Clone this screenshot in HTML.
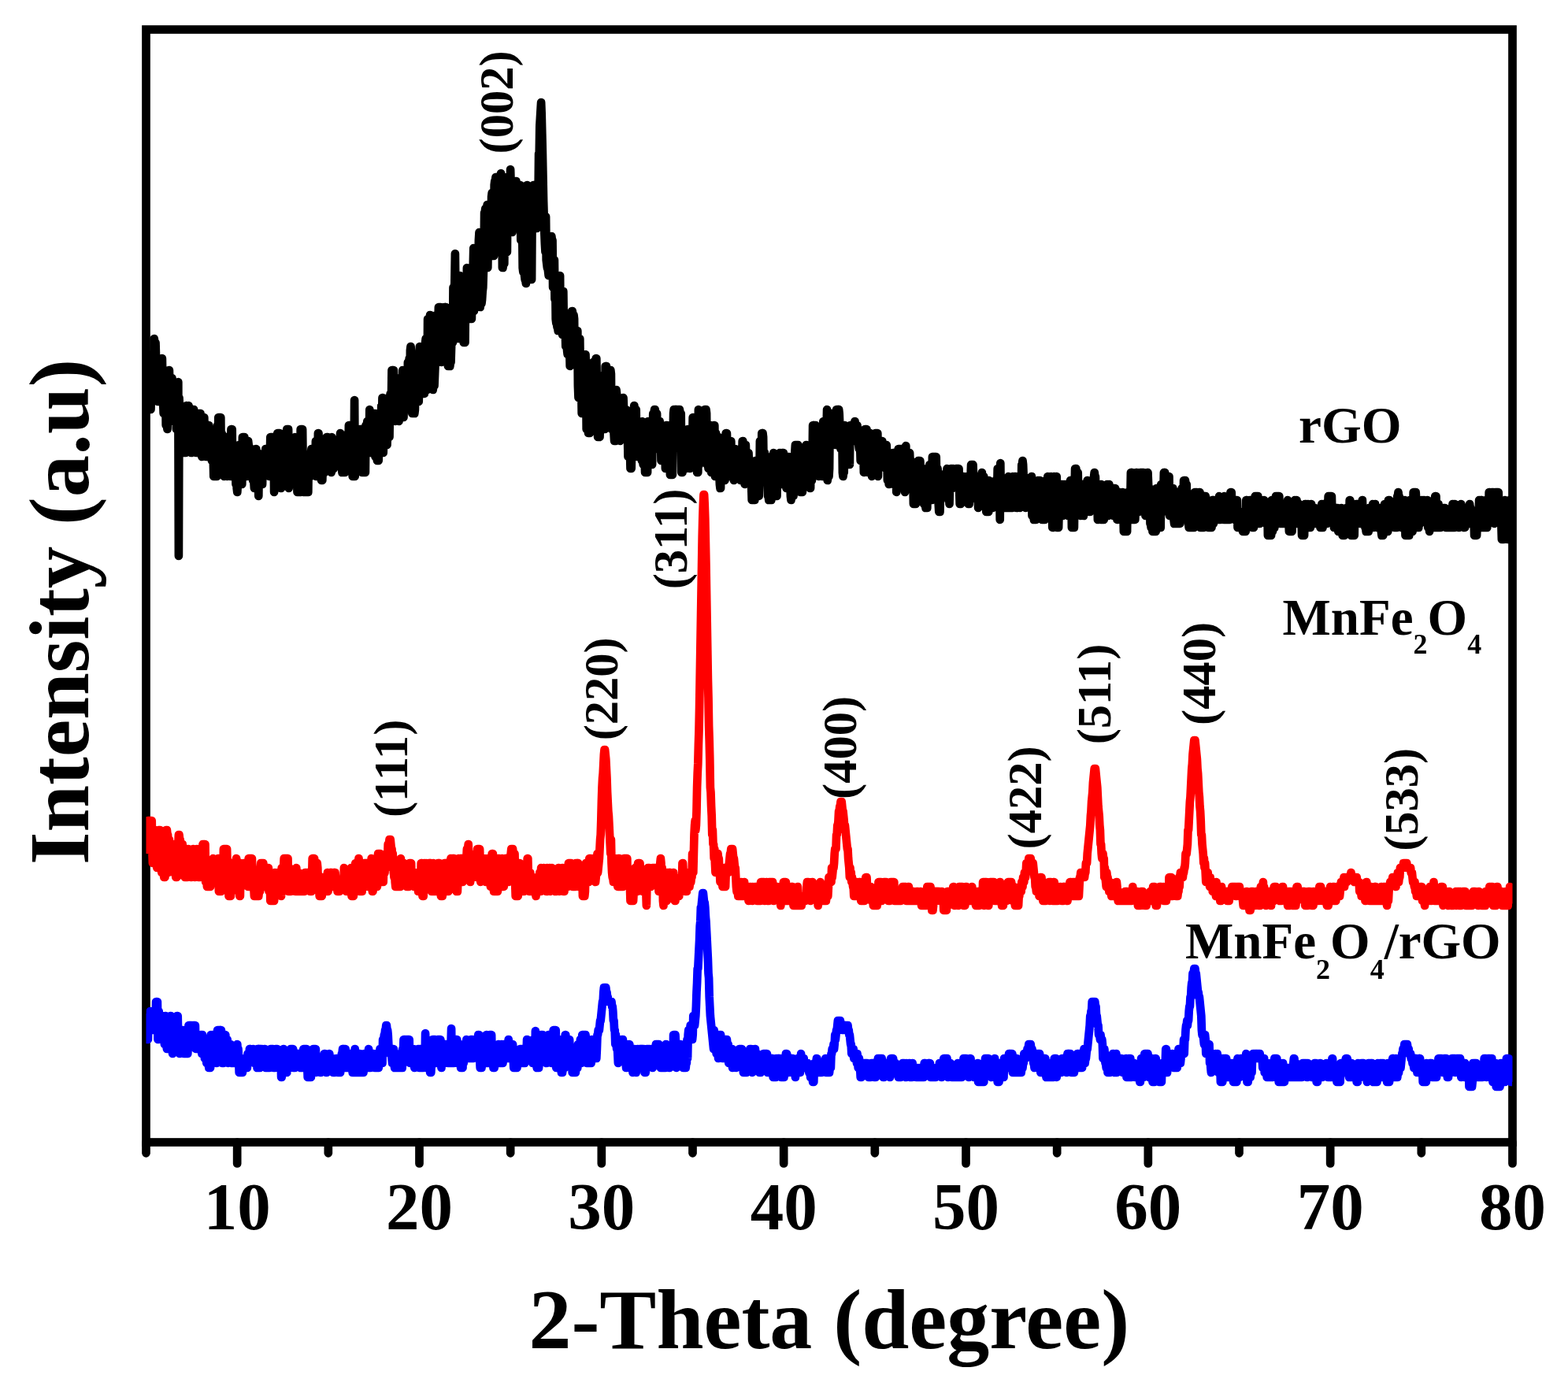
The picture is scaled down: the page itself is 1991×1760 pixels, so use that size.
<!DOCTYPE html>
<html><head><meta charset="utf-8"><style>
html,body{margin:0;padding:0;background:#fff;}
svg{display:block;}
text{font-family:'Liberation Serif','Times New Roman',serif;font-weight:bold;fill:#000;}
</style></head><body>
<svg width="1991" height="1760" viewBox="0 0 1991 1760">
<defs><clipPath id="c"><rect x="185.5" y="0" width="1735" height="1760"/></clipPath></defs>
<rect x="0" y="0" width="1991" height="1760" fill="#fff"/>
<g stroke="#000" stroke-width="10.7" fill="none" stroke-linecap="round">
<rect x="185.5" y="37.5" width="1735" height="1413" stroke-linejoin="miter"/>
<line x1="185.50" y1="1450.5" x2="185.50" y2="1464.3"/>
<line x1="301.17" y1="1450.5" x2="301.17" y2="1477.4"/>
<line x1="416.83" y1="1450.5" x2="416.83" y2="1464.3"/>
<line x1="532.50" y1="1450.5" x2="532.50" y2="1477.4"/>
<line x1="648.17" y1="1450.5" x2="648.17" y2="1464.3"/>
<line x1="763.83" y1="1450.5" x2="763.83" y2="1477.4"/>
<line x1="879.50" y1="1450.5" x2="879.50" y2="1464.3"/>
<line x1="995.17" y1="1450.5" x2="995.17" y2="1477.4"/>
<line x1="1110.83" y1="1450.5" x2="1110.83" y2="1464.3"/>
<line x1="1226.50" y1="1450.5" x2="1226.50" y2="1477.4"/>
<line x1="1342.17" y1="1450.5" x2="1342.17" y2="1464.3"/>
<line x1="1457.83" y1="1450.5" x2="1457.83" y2="1477.4"/>
<line x1="1573.50" y1="1450.5" x2="1573.50" y2="1464.3"/>
<line x1="1689.17" y1="1450.5" x2="1689.17" y2="1477.4"/>
<line x1="1804.83" y1="1450.5" x2="1804.83" y2="1464.3"/>
<line x1="1920.50" y1="1450.5" x2="1920.50" y2="1477.4"/>
</g>
<g clip-path="url(#c)" fill="none" stroke-width="10.7" stroke-linejoin="round" stroke-linecap="butt">
<polyline stroke="#000" points="185.5,460.0 186.1,455.0 186.7,470.0 187.3,450.0 187.9,485.0 188.5,520.0 189.1,520.0 189.7,520.0 190.3,520.0 190.9,520.0 191.5,520.0 192.1,485.0 192.7,480.0 193.3,450.0 193.9,455.0 194.5,480.0 195.1,505.0 195.7,430.0 196.3,435.0 196.9,435.0 197.5,435.0 198.1,455.0 198.7,455.0 199.3,465.0 199.9,490.0 200.5,510.0 201.1,460.0 201.7,490.0 202.3,485.0 202.9,480.0 203.5,490.0 204.1,510.0 204.7,465.0 205.3,485.0 205.9,455.0 206.5,490.0 207.1,510.0 207.7,525.0 208.3,485.0 208.9,470.0 209.5,495.0 210.1,480.0 210.7,540.0 211.3,540.0 211.9,540.0 212.5,545.0 213.1,530.0 213.7,485.0 214.3,480.0 214.9,470.0 215.5,495.0 216.1,520.0 216.7,480.0 217.3,525.0 217.9,515.0 218.5,480.0 219.1,510.0 219.7,525.0 220.3,535.0 220.9,485.0 221.5,530.0 222.1,530.0 222.7,490.0 223.3,495.0 223.9,545.0 224.5,500.0 225.1,500.0 225.7,525.0 226.3,485.0 226.9,706.0 227.5,505.0 228.1,520.0 228.7,525.0 229.3,530.0 229.9,515.0 230.5,550.0 231.1,545.0 231.7,570.0 232.3,570.0 232.9,575.0 233.5,570.0 234.1,575.0 234.7,575.0 235.3,575.0 235.9,575.0 236.5,515.0 237.1,515.0 237.7,550.0 238.3,550.0 238.9,560.0 239.5,515.0 240.1,560.0 240.7,535.0 241.3,530.0 241.9,535.0 242.5,575.0 243.1,570.0 243.7,525.0 244.3,540.0 244.9,520.0 245.5,520.0 246.1,520.0 246.7,525.0 247.3,525.0 247.9,525.0 248.5,525.0 249.1,575.0 249.7,550.0 250.3,570.0 250.9,555.0 251.5,550.0 252.1,530.0 252.7,525.0 253.3,530.0 253.9,530.0 254.5,525.0 255.1,530.0 255.7,570.0 256.3,580.0 256.9,555.0 257.5,530.0 258.1,530.0 258.7,530.0 259.3,530.0 259.9,575.0 260.5,575.0 261.1,545.0 261.7,580.0 262.3,580.0 262.9,555.0 263.5,555.0 264.1,540.0 264.7,560.0 265.3,540.0 265.9,565.0 266.5,575.0 267.1,575.0 267.7,545.0 268.3,575.0 268.9,585.0 269.5,550.0 270.1,575.0 270.7,580.0 271.3,605.0 271.9,605.0 272.5,605.0 273.1,605.0 273.7,605.0 274.3,605.0 274.9,605.0 275.5,605.0 276.1,540.0 276.7,590.0 277.3,530.0 277.9,530.0 278.5,530.0 279.1,530.0 279.7,530.0 280.3,530.0 280.9,595.0 281.5,550.0 282.1,555.0 282.7,600.0 283.3,600.0 283.9,555.0 284.5,605.0 285.1,565.0 285.7,600.0 286.3,600.0 286.9,555.0 287.5,555.0 288.1,570.0 288.7,605.0 289.3,595.0 289.9,575.0 290.5,600.0 291.1,570.0 291.7,575.0 292.3,565.0 292.9,605.0 293.5,545.0 294.1,545.0 294.7,545.0 295.3,605.0 295.9,580.0 296.5,570.0 297.1,580.0 297.7,595.0 298.3,600.0 298.9,570.0 299.5,615.0 300.1,600.0 300.7,620.0 301.3,625.0 301.9,615.0 302.5,610.0 303.1,565.0 303.7,590.0 304.3,595.0 304.9,615.0 305.5,590.0 306.1,570.0 306.7,615.0 307.3,615.0 307.9,555.0 308.5,555.0 309.1,555.0 309.7,555.0 310.3,555.0 310.9,565.0 311.5,590.0 312.1,580.0 312.7,575.0 313.3,605.0 313.9,565.0 314.5,565.0 315.1,560.0 315.7,565.0 316.3,600.0 316.9,580.0 317.5,605.0 318.1,575.0 318.7,605.0 319.3,605.0 319.9,570.0 320.5,600.0 321.1,610.0 321.7,610.0 322.3,610.0 322.9,620.0 323.5,610.0 324.1,620.0 324.7,595.0 325.3,570.0 325.9,580.0 326.5,585.0 327.1,575.0 327.7,575.0 328.3,630.0 328.9,585.0 329.5,585.0 330.1,610.0 330.7,615.0 331.3,615.0 331.9,590.0 332.5,610.0 333.1,615.0 333.7,580.0 334.3,580.0 334.9,605.0 335.5,585.0 336.1,580.0 336.7,590.0 337.3,570.0 337.9,595.0 338.5,570.0 339.1,585.0 339.7,575.0 340.3,585.0 340.9,570.0 341.5,590.0 342.1,605.0 342.7,585.0 343.3,555.0 343.9,555.0 344.5,555.0 345.1,555.0 345.7,555.0 346.3,555.0 346.9,555.0 347.5,555.0 348.1,625.0 348.7,585.0 349.3,595.0 349.9,605.0 350.5,605.0 351.1,580.0 351.7,600.0 352.3,550.0 352.9,550.0 353.5,550.0 354.1,550.0 354.7,550.0 355.3,550.0 355.9,610.0 356.5,620.0 357.1,620.0 357.7,585.0 358.3,605.0 358.9,600.0 359.5,590.0 360.1,600.0 360.7,575.0 361.3,610.0 361.9,580.0 362.5,565.0 363.1,550.0 363.7,550.0 364.3,545.0 364.9,550.0 365.5,550.0 366.1,545.0 366.7,620.0 367.3,590.0 367.9,615.0 368.5,610.0 369.1,565.0 369.7,570.0 370.3,580.0 370.9,610.0 371.5,575.0 372.1,585.0 372.7,585.0 373.3,575.0 373.9,605.0 374.5,555.0 375.1,570.0 375.7,605.0 376.3,590.0 376.9,585.0 377.5,625.0 378.1,625.0 378.7,625.0 379.3,625.0 379.9,625.0 380.5,625.0 381.1,620.0 381.7,545.0 382.3,545.0 382.9,545.0 383.5,545.0 384.1,545.0 384.7,595.0 385.3,625.0 385.9,625.0 386.5,625.0 387.1,585.0 387.7,625.0 388.3,625.0 388.9,625.0 389.5,625.0 390.1,620.0 390.7,620.0 391.3,625.0 391.9,580.0 392.5,585.0 393.1,600.0 393.7,600.0 394.3,605.0 394.9,575.0 395.5,570.0 396.1,595.0 396.7,585.0 397.3,590.0 397.9,570.0 398.5,575.0 399.1,600.0 399.7,580.0 400.3,600.0 400.9,560.0 401.5,605.0 402.1,570.0 402.7,580.0 403.3,605.0 403.9,550.0 404.5,550.0 405.1,605.0 405.7,600.0 406.3,585.0 406.9,565.0 407.5,590.0 408.1,610.0 408.7,610.0 409.3,610.0 409.9,590.0 410.5,585.0 411.1,565.0 411.7,580.0 412.3,600.0 412.9,575.0 413.5,575.0 414.1,590.0 414.7,555.0 415.3,555.0 415.9,555.0 416.5,555.0 417.1,580.0 417.7,585.0 418.3,575.0 418.9,570.0 419.5,565.0 420.1,580.0 420.7,600.0 421.3,555.0 421.9,590.0 422.5,595.0 423.1,575.0 423.7,595.0 424.3,585.0 424.9,575.0 425.5,570.0 426.1,570.0 426.7,580.0 427.3,560.0 427.9,580.0 428.5,570.0 429.1,580.0 429.7,590.0 430.3,560.0 430.9,565.0 431.5,560.0 432.1,550.0 432.7,575.0 433.3,575.0 433.9,595.0 434.5,600.0 435.1,600.0 435.7,600.0 436.3,600.0 436.9,600.0 437.5,600.0 438.1,600.0 438.7,565.0 439.3,585.0 439.9,560.0 440.5,555.0 441.1,585.0 441.7,550.0 442.3,585.0 442.9,540.0 443.5,540.0 444.1,540.0 444.7,540.0 445.3,540.0 445.9,580.0 446.5,565.0 447.1,570.0 447.7,605.0 448.3,605.0 448.9,605.0 449.5,605.0 450.1,508.0 450.7,605.0 451.3,560.0 451.9,565.0 452.5,560.0 453.1,585.0 453.7,590.0 454.3,580.0 454.9,565.0 455.5,580.0 456.1,575.0 456.7,565.0 457.3,545.0 457.9,550.0 458.5,575.0 459.1,545.0 459.7,600.0 460.3,600.0 460.9,600.0 461.5,600.0 462.1,600.0 462.7,600.0 463.3,600.0 463.9,600.0 464.5,540.0 465.1,555.0 465.7,550.0 466.3,535.0 466.9,540.0 467.5,550.0 468.1,570.0 468.7,565.0 469.3,520.0 469.9,550.0 470.5,530.0 471.1,575.0 471.7,575.0 472.3,555.0 472.9,565.0 473.5,560.0 474.1,570.0 474.7,530.0 475.3,525.0 475.9,565.0 476.5,580.0 477.1,525.0 477.7,550.0 478.3,545.0 478.9,585.0 479.5,585.0 480.1,585.0 480.7,585.0 481.3,530.0 481.9,570.0 482.5,550.0 483.1,550.0 483.7,570.0 484.3,515.0 484.9,540.0 485.5,505.0 486.1,505.0 486.7,575.0 487.3,555.0 487.9,540.0 488.5,535.0 489.1,550.0 489.7,560.0 490.3,565.0 490.9,565.0 491.5,565.0 492.1,545.0 492.7,505.0 493.3,555.0 493.9,510.0 494.5,555.0 495.1,505.0 495.7,500.0 496.3,505.0 496.9,515.0 497.5,470.0 498.1,475.0 498.7,475.0 499.3,470.0 499.9,470.0 500.5,510.0 501.1,505.0 501.7,535.0 502.3,520.0 502.9,505.0 503.5,530.0 504.1,515.0 504.7,485.0 505.3,530.0 505.9,505.0 506.5,535.0 507.1,515.0 507.7,480.0 508.3,520.0 508.9,510.0 509.5,505.0 510.1,495.0 510.7,510.0 511.3,470.0 511.9,500.0 512.5,530.0 513.1,475.0 513.7,470.0 514.3,490.0 514.9,495.0 515.5,485.0 516.1,495.0 516.7,505.0 517.3,510.0 517.9,460.0 518.5,480.0 519.1,495.0 519.7,455.0 520.3,520.0 520.9,445.0 521.5,440.0 522.1,445.0 522.7,465.0 523.3,525.0 523.9,525.0 524.5,525.0 525.1,525.0 525.7,525.0 526.3,525.0 526.9,520.0 527.5,485.0 528.1,485.0 528.7,505.0 529.3,505.0 529.9,510.0 530.5,460.0 531.1,470.0 531.7,510.0 532.3,485.0 532.9,440.0 533.5,500.0 534.1,480.0 534.7,445.0 535.3,455.0 535.9,470.0 536.5,475.0 537.1,460.0 537.7,480.0 538.3,465.0 538.9,500.0 539.5,490.0 540.1,435.0 540.7,430.0 541.3,485.0 541.9,465.0 542.5,495.0 543.1,405.0 543.7,405.0 544.3,405.0 544.9,405.0 545.5,405.0 546.1,400.0 546.7,400.0 547.3,470.0 547.9,485.0 548.5,430.0 549.1,490.0 549.7,495.0 550.3,490.0 550.9,490.0 551.5,490.0 552.1,475.0 552.7,460.0 553.3,415.0 553.9,400.0 554.5,450.0 555.1,425.0 555.7,415.0 556.3,415.0 556.9,390.0 557.5,390.0 558.1,390.0 558.7,390.0 559.3,390.0 559.9,390.0 560.5,460.0 561.1,430.0 561.7,435.0 562.3,430.0 562.9,395.0 563.5,395.0 564.1,395.0 564.7,390.0 565.3,395.0 565.9,390.0 566.5,425.0 567.1,435.0 567.7,445.0 568.3,430.0 568.9,465.0 569.5,465.0 570.1,465.0 570.7,465.0 571.3,465.0 571.9,460.0 572.5,460.0 573.1,440.0 573.7,405.0 574.3,415.0 574.9,435.0 575.5,365.0 576.1,365.0 576.7,365.0 577.3,360.0 577.9,322.0 578.5,380.0 579.1,405.0 579.7,375.0 580.3,410.0 580.9,390.0 581.5,430.0 582.1,400.0 582.7,350.0 583.3,350.0 583.9,350.0 584.5,360.0 585.1,380.0 585.7,385.0 586.3,360.0 586.9,365.0 587.5,375.0 588.1,380.0 588.7,435.0 589.3,435.0 589.9,435.0 590.5,435.0 591.1,370.0 591.7,405.0 592.3,405.0 592.9,340.0 593.5,350.0 594.1,345.0 594.7,365.0 595.3,365.0 595.9,395.0 596.5,390.0 597.1,405.0 597.7,385.0 598.3,370.0 598.9,405.0 599.5,370.0 600.1,350.0 600.7,340.0 601.3,315.0 601.9,395.0 602.5,375.0 603.1,340.0 603.7,385.0 604.3,370.0 604.9,345.0 605.5,390.0 606.1,380.0 606.7,335.0 607.3,335.0 607.9,305.0 608.5,295.0 609.1,320.0 609.7,390.0 610.3,385.0 610.9,385.0 611.5,385.0 612.1,380.0 612.7,370.0 613.3,365.0 613.9,345.0 614.5,330.0 615.1,270.0 615.7,270.0 616.3,265.0 616.9,265.0 617.5,265.0 618.1,265.0 618.7,260.0 619.3,340.0 619.9,300.0 620.5,265.0 621.1,285.0 621.7,290.0 622.3,315.0 622.9,295.0 623.5,315.0 624.1,250.0 624.7,245.0 625.3,245.0 625.9,245.0 626.5,325.0 627.1,325.0 627.7,235.0 628.3,230.0 628.9,230.0 629.5,225.0 630.1,230.0 630.7,225.0 631.3,225.0 631.9,225.0 632.5,295.0 633.1,315.0 633.7,300.0 634.3,280.0 634.9,240.0 635.5,305.0 636.1,220.0 636.7,295.0 637.3,235.0 637.9,340.0 638.5,340.0 639.1,335.0 639.7,335.0 640.3,335.0 640.9,270.0 641.5,260.0 642.1,230.0 642.7,245.0 643.3,225.0 643.9,320.0 644.5,240.0 645.1,255.0 645.7,240.0 646.3,285.0 646.9,270.0 647.5,290.0 648.1,215.0 648.7,235.0 649.3,270.0 649.9,270.0 650.5,295.0 651.1,230.0 651.7,255.0 652.3,260.0 652.9,270.0 653.5,255.0 654.1,290.0 654.7,235.0 655.3,230.0 655.9,255.0 656.5,235.0 657.1,265.0 657.7,280.0 658.3,240.0 658.9,275.0 659.5,285.0 660.1,285.0 660.7,235.0 661.3,305.0 661.9,305.0 662.5,265.0 663.1,285.0 663.7,340.0 664.3,345.0 664.9,345.0 665.5,345.0 666.1,350.0 666.7,355.0 667.3,355.0 667.9,360.0 668.5,280.0 669.1,235.0 669.7,235.0 670.3,255.0 670.9,300.0 671.5,315.0 672.1,320.0 672.7,250.0 673.3,315.0 673.9,300.0 674.5,285.0 675.1,355.0 675.7,260.0 676.3,240.0 676.9,240.0 677.5,235.0 678.1,240.0 678.7,240.0 679.3,240.0 679.9,235.0 680.5,235.0 681.1,250.0 681.7,290.0 682.3,245.0 682.9,235.0 683.5,255.0 684.1,195.0 684.7,200.0 685.3,160.0 685.9,150.0 686.5,140.0 687.1,130.0 687.7,145.0 688.3,170.0 688.9,195.0 689.5,225.0 690.1,255.0 690.7,275.0 691.3,295.0 691.9,310.0 692.5,320.0 693.1,275.0 693.7,330.0 694.3,335.0 694.9,340.0 695.5,340.0 696.1,345.0 696.7,350.0 697.3,310.0 697.9,305.0 698.5,310.0 699.1,335.0 699.7,300.0 700.3,300.0 700.9,305.0 701.5,305.0 702.1,365.0 702.7,345.0 703.3,345.0 703.9,330.0 704.5,380.0 705.1,350.0 705.7,405.0 706.3,410.0 706.9,410.0 707.5,415.0 708.1,415.0 708.7,420.0 709.3,420.0 709.9,420.0 710.5,380.0 711.1,350.0 711.7,415.0 712.3,375.0 712.9,385.0 713.5,405.0 714.1,425.0 714.7,375.0 715.3,370.0 715.9,415.0 716.5,415.0 717.1,400.0 717.7,415.0 718.3,440.0 718.9,435.0 719.5,420.0 720.1,445.0 720.7,450.0 721.3,445.0 721.9,400.0 722.5,435.0 723.1,440.0 723.7,465.0 724.3,440.0 724.9,450.0 725.5,455.0 726.1,395.0 726.7,395.0 727.3,400.0 727.9,400.0 728.5,400.0 729.1,405.0 729.7,460.0 730.3,460.0 730.9,455.0 731.5,420.0 732.1,465.0 732.7,430.0 733.3,420.0 733.9,490.0 734.5,505.0 735.1,430.0 735.7,485.0 736.3,430.0 736.9,480.0 737.5,490.0 738.1,485.0 738.7,525.0 739.3,490.0 739.9,450.0 740.5,525.0 741.1,465.0 741.7,490.0 742.3,480.0 742.9,515.0 743.5,450.0 744.1,475.0 744.7,545.0 745.3,545.0 745.9,545.0 746.5,545.0 747.1,550.0 747.7,545.0 748.3,550.0 748.9,550.0 749.5,480.0 750.1,510.0 750.7,505.0 751.3,515.0 751.9,495.0 752.5,480.0 753.1,460.0 753.7,515.0 754.3,480.0 754.9,460.0 755.5,495.0 756.1,485.0 756.7,455.0 757.3,455.0 757.9,495.0 758.5,525.0 759.1,555.0 759.7,555.0 760.3,555.0 760.9,555.0 761.5,555.0 762.1,535.0 762.7,490.0 763.3,545.0 763.9,485.0 764.5,505.0 765.1,480.0 765.7,515.0 766.3,530.0 766.9,525.0 767.5,475.0 768.1,545.0 768.7,465.0 769.3,470.0 769.9,465.0 770.5,530.0 771.1,515.0 771.7,515.0 772.3,490.0 772.9,505.0 773.5,535.0 774.1,525.0 774.7,525.0 775.3,470.0 775.9,475.0 776.5,545.0 777.1,505.0 777.7,500.0 778.3,530.0 778.9,500.0 779.5,550.0 780.1,560.0 780.7,560.0 781.3,560.0 781.9,560.0 782.5,495.0 783.1,500.0 783.7,520.0 784.3,525.0 784.9,550.0 785.5,510.0 786.1,555.0 786.7,530.0 787.3,560.0 787.9,515.0 788.5,510.0 789.1,535.0 789.7,525.0 790.3,540.0 790.9,505.0 791.5,505.0 792.1,520.0 792.7,530.0 793.3,535.0 793.9,530.0 794.5,545.0 795.1,520.0 795.7,530.0 796.3,525.0 796.9,550.0 797.5,580.0 798.1,530.0 798.7,575.0 799.3,545.0 799.9,570.0 800.5,595.0 801.1,595.0 801.7,595.0 802.3,565.0 802.9,580.0 803.5,575.0 804.1,555.0 804.7,520.0 805.3,515.0 805.9,520.0 806.5,520.0 807.1,520.0 807.7,520.0 808.3,575.0 808.9,565.0 809.5,580.0 810.1,565.0 810.7,555.0 811.3,570.0 811.9,570.0 812.5,545.0 813.1,555.0 813.7,565.0 814.3,545.0 814.9,585.0 815.5,535.0 816.1,580.0 816.7,590.0 817.3,570.0 817.9,545.0 818.5,580.0 819.1,600.0 819.7,600.0 820.3,600.0 820.9,600.0 821.5,600.0 822.1,600.0 822.7,535.0 823.3,575.0 823.9,575.0 824.5,550.0 825.1,555.0 825.7,575.0 826.3,570.0 826.9,570.0 827.5,560.0 828.1,590.0 828.7,545.0 829.3,525.0 829.9,525.0 830.5,525.0 831.1,520.0 831.7,520.0 832.3,525.0 832.9,525.0 833.5,525.0 834.1,525.0 834.7,570.0 835.3,550.0 835.9,555.0 836.5,560.0 837.1,540.0 837.7,535.0 838.3,570.0 838.9,545.0 839.5,585.0 840.1,540.0 840.7,550.0 841.3,575.0 841.9,545.0 842.5,560.0 843.1,555.0 843.7,555.0 844.3,545.0 844.9,595.0 845.5,555.0 846.1,540.0 846.7,590.0 847.3,540.0 847.9,580.0 848.5,575.0 849.1,580.0 849.7,585.0 850.3,545.0 850.9,603.0 851.5,603.0 852.1,603.0 852.7,603.0 853.3,603.0 853.9,603.0 854.5,565.0 855.1,525.0 855.7,520.0 856.3,525.0 856.9,560.0 857.5,520.0 858.1,525.0 858.7,520.0 859.3,520.0 859.9,525.0 860.5,540.0 861.1,525.0 861.7,520.0 862.3,520.0 862.9,520.0 863.5,525.0 864.1,525.0 864.7,525.0 865.3,600.0 865.9,560.0 866.5,600.0 867.1,575.0 867.7,595.0 868.3,570.0 868.9,590.0 869.5,590.0 870.1,560.0 870.7,555.0 871.3,595.0 871.9,555.0 872.5,585.0 873.1,545.0 873.7,565.0 874.3,555.0 874.9,550.0 875.5,545.0 876.1,595.0 876.7,570.0 877.3,555.0 877.9,565.0 878.5,580.0 879.1,570.0 879.7,530.0 880.3,535.0 880.9,585.0 881.5,560.0 882.1,565.0 882.7,535.0 883.3,530.0 883.9,535.0 884.5,545.0 885.1,600.0 885.7,600.0 886.3,600.0 886.9,520.0 887.5,560.0 888.1,590.0 888.7,530.0 889.3,570.0 889.9,575.0 890.5,540.0 891.1,585.0 891.7,535.0 892.3,580.0 892.9,540.0 893.5,555.0 894.1,555.0 894.7,520.0 895.3,520.0 895.9,520.0 896.5,520.0 897.1,525.0 897.7,590.0 898.3,540.0 898.9,560.0 899.5,595.0 900.1,575.0 900.7,565.0 901.3,570.0 901.9,595.0 902.5,540.0 903.1,600.0 903.7,570.0 904.3,590.0 904.9,570.0 905.5,595.0 906.1,550.0 906.7,540.0 907.3,540.0 907.9,605.0 908.5,575.0 909.1,550.0 909.7,590.0 910.3,580.0 910.9,555.0 911.5,560.0 912.1,575.0 912.7,555.0 913.3,600.0 913.9,615.0 914.5,620.0 915.1,620.0 915.7,570.0 916.3,610.0 916.9,610.0 917.5,610.0 918.1,610.0 918.7,610.0 919.3,610.0 919.9,610.0 920.5,610.0 921.1,570.0 921.7,550.0 922.3,550.0 922.9,550.0 923.5,570.0 924.1,585.0 924.7,605.0 925.3,590.0 925.9,575.0 926.5,595.0 927.1,565.0 927.7,560.0 928.3,560.0 928.9,590.0 929.5,590.0 930.1,595.0 930.7,595.0 931.3,590.0 931.9,610.0 932.5,585.0 933.1,570.0 933.7,575.0 934.3,585.0 934.9,595.0 935.5,580.0 936.1,585.0 936.7,580.0 937.3,600.0 937.9,605.0 938.5,575.0 939.1,600.0 939.7,570.0 940.3,610.0 940.9,580.0 941.5,595.0 942.1,590.0 942.7,560.0 943.3,560.0 943.9,565.0 944.5,585.0 945.1,590.0 945.7,615.0 946.3,570.0 946.9,565.0 947.5,595.0 948.1,580.0 948.7,590.0 949.3,575.0 949.9,605.0 950.5,575.0 951.1,595.0 951.7,610.0 952.3,615.0 952.9,585.0 953.5,595.0 954.1,615.0 954.7,635.0 955.3,635.0 955.9,630.0 956.5,630.0 957.1,630.0 957.7,630.0 958.3,635.0 958.9,585.0 959.5,630.0 960.1,630.0 960.7,630.0 961.3,630.0 961.9,630.0 962.5,630.0 963.1,630.0 963.7,630.0 964.3,615.0 964.9,560.0 965.5,560.0 966.1,585.0 966.7,605.0 967.3,550.0 967.9,555.0 968.5,550.0 969.1,555.0 969.7,595.0 970.3,580.0 970.9,575.0 971.5,610.0 972.1,605.0 972.7,595.0 973.3,595.0 973.9,610.0 974.5,580.0 975.1,630.0 975.7,630.0 976.3,635.0 976.9,635.0 977.5,630.0 978.1,630.0 978.7,630.0 979.3,635.0 979.9,610.0 980.5,600.0 981.1,595.0 981.7,590.0 982.3,575.0 982.9,610.0 983.5,615.0 984.1,580.0 984.7,605.0 985.3,625.0 985.9,630.0 986.5,630.0 987.1,580.0 987.7,580.0 988.3,590.0 988.9,580.0 989.5,600.0 990.1,575.0 990.7,605.0 991.3,610.0 991.9,575.0 992.5,615.0 993.1,615.0 993.7,575.0 994.3,600.0 994.9,575.0 995.5,595.0 996.1,580.0 996.7,600.0 997.3,580.0 997.9,580.0 998.5,620.0 999.1,615.0 999.7,605.0 1000.3,610.0 1000.9,585.0 1001.5,580.0 1002.1,590.0 1002.7,610.0 1003.3,610.0 1003.9,630.0 1004.5,635.0 1005.1,630.0 1005.7,630.0 1006.3,630.0 1006.9,630.0 1007.5,630.0 1008.1,615.0 1008.7,620.0 1009.3,575.0 1009.9,565.0 1010.5,565.0 1011.1,565.0 1011.7,565.0 1012.3,565.0 1012.9,565.0 1013.5,565.0 1014.1,580.0 1014.7,595.0 1015.3,610.0 1015.9,625.0 1016.5,625.0 1017.1,625.0 1017.7,625.0 1018.3,625.0 1018.9,625.0 1019.5,590.0 1020.1,585.0 1020.7,580.0 1021.3,595.0 1021.9,610.0 1022.5,585.0 1023.1,580.0 1023.7,565.0 1024.3,570.0 1024.9,570.0 1025.5,585.0 1026.1,605.0 1026.7,585.0 1027.3,570.0 1027.9,570.0 1028.5,620.0 1029.1,620.0 1029.7,575.0 1030.3,605.0 1030.9,610.0 1031.5,590.0 1032.1,540.0 1032.7,545.0 1033.3,540.0 1033.9,540.0 1034.5,540.0 1035.1,540.0 1035.7,540.0 1036.3,555.0 1036.9,580.0 1037.5,580.0 1038.1,570.0 1038.7,580.0 1039.3,605.0 1039.9,580.0 1040.5,560.0 1041.1,575.0 1041.7,560.0 1042.3,580.0 1042.9,580.0 1043.5,585.0 1044.1,605.0 1044.7,570.0 1045.3,535.0 1045.9,570.0 1046.5,570.0 1047.1,590.0 1047.7,600.0 1048.3,545.0 1048.9,595.0 1049.5,545.0 1050.1,520.0 1050.7,610.0 1051.3,605.0 1051.9,605.0 1052.5,605.0 1053.1,595.0 1053.7,535.0 1054.3,555.0 1054.9,560.0 1055.5,525.0 1056.1,525.0 1056.7,525.0 1057.3,525.0 1057.9,525.0 1058.5,525.0 1059.1,525.0 1059.7,525.0 1060.3,550.0 1060.9,565.0 1061.5,545.0 1062.1,520.0 1062.7,520.0 1063.3,520.0 1063.9,520.0 1064.5,525.0 1065.1,520.0 1065.7,525.0 1066.3,540.0 1066.9,550.0 1067.5,570.0 1068.1,565.0 1068.7,560.0 1069.3,545.0 1069.9,600.0 1070.5,605.0 1071.1,600.0 1071.7,600.0 1072.3,540.0 1072.9,540.0 1073.5,585.0 1074.1,560.0 1074.7,585.0 1075.3,555.0 1075.9,570.0 1076.5,555.0 1077.1,585.0 1077.7,550.0 1078.3,570.0 1078.9,590.0 1079.5,540.0 1080.1,540.0 1080.7,540.0 1081.3,540.0 1081.9,540.0 1082.5,540.0 1083.1,540.0 1083.7,540.0 1084.3,560.0 1084.9,540.0 1085.5,535.0 1086.1,540.0 1086.7,540.0 1087.3,540.0 1087.9,540.0 1088.5,540.0 1089.1,560.0 1089.7,550.0 1090.3,565.0 1090.9,570.0 1091.5,560.0 1092.1,565.0 1092.7,585.0 1093.3,565.0 1093.9,565.0 1094.5,565.0 1095.1,575.0 1095.7,560.0 1096.3,575.0 1096.9,600.0 1097.5,595.0 1098.1,545.0 1098.7,545.0 1099.3,545.0 1099.9,545.0 1100.5,545.0 1101.1,575.0 1101.7,585.0 1102.3,600.0 1102.9,550.0 1103.5,550.0 1104.1,550.0 1104.7,550.0 1105.3,555.0 1105.9,575.0 1106.5,565.0 1107.1,605.0 1107.7,595.0 1108.3,580.0 1108.9,560.0 1109.5,565.0 1110.1,570.0 1110.7,585.0 1111.3,550.0 1111.9,550.0 1112.5,550.0 1113.1,550.0 1113.7,550.0 1114.3,550.0 1114.9,605.0 1115.5,570.0 1116.1,570.0 1116.7,560.0 1117.3,560.0 1117.9,560.0 1118.5,560.0 1119.1,560.0 1119.7,560.0 1120.3,560.0 1120.9,590.0 1121.5,565.0 1122.1,565.0 1122.7,565.0 1123.3,565.0 1123.9,565.0 1124.5,595.0 1125.1,565.0 1125.7,565.0 1126.3,580.0 1126.9,610.0 1127.5,595.0 1128.1,600.0 1128.7,615.0 1129.3,605.0 1129.9,575.0 1130.5,605.0 1131.1,585.0 1131.7,605.0 1132.3,595.0 1132.9,595.0 1133.5,580.0 1134.1,575.0 1134.7,615.0 1135.3,575.0 1135.9,575.0 1136.5,595.0 1137.1,615.0 1137.7,600.0 1138.3,625.0 1138.9,610.0 1139.5,615.0 1140.1,615.0 1140.7,570.0 1141.3,570.0 1141.9,570.0 1142.5,570.0 1143.1,570.0 1143.7,570.0 1144.3,570.0 1144.9,575.0 1145.5,580.0 1146.1,610.0 1146.7,575.0 1147.3,605.0 1147.9,590.0 1148.5,610.0 1149.1,625.0 1149.7,595.0 1150.3,566.0 1150.9,610.0 1151.5,575.0 1152.1,575.0 1152.7,575.0 1153.3,575.0 1153.9,575.0 1154.5,575.0 1155.1,575.0 1155.7,590.0 1156.3,595.0 1156.9,585.0 1157.5,600.0 1158.1,600.0 1158.7,600.0 1159.3,600.0 1159.9,640.0 1160.5,640.0 1161.1,640.0 1161.7,640.0 1162.3,640.0 1162.9,640.0 1163.5,605.0 1164.1,625.0 1164.7,620.0 1165.3,610.0 1165.9,585.0 1166.5,605.0 1167.1,585.0 1167.7,630.0 1168.3,585.0 1168.9,595.0 1169.5,595.0 1170.1,625.0 1170.7,630.0 1171.3,620.0 1171.9,625.0 1172.5,595.0 1173.1,640.0 1173.7,640.0 1174.3,640.0 1174.9,640.0 1175.5,645.0 1176.1,645.0 1176.7,640.0 1177.3,645.0 1177.9,610.0 1178.5,635.0 1179.1,625.0 1179.7,630.0 1180.3,590.0 1180.9,635.0 1181.5,615.0 1182.1,595.0 1182.7,620.0 1183.3,635.0 1183.9,580.0 1184.5,580.0 1185.1,580.0 1185.7,580.0 1186.3,580.0 1186.9,580.0 1187.5,580.0 1188.1,580.0 1188.7,580.0 1189.3,615.0 1189.9,625.0 1190.5,595.0 1191.1,600.0 1191.7,640.0 1192.3,650.0 1192.9,645.0 1193.5,650.0 1194.1,615.0 1194.7,605.0 1195.3,610.0 1195.9,605.0 1196.5,630.0 1197.1,610.0 1197.7,625.0 1198.3,625.0 1198.9,620.0 1199.5,615.0 1200.1,610.0 1200.7,605.0 1201.3,600.0 1201.9,625.0 1202.5,595.0 1203.1,630.0 1203.7,630.0 1204.3,635.0 1204.9,625.0 1205.5,640.0 1206.1,615.0 1206.7,615.0 1207.3,610.0 1207.9,595.0 1208.5,615.0 1209.1,620.0 1209.7,620.0 1210.3,595.0 1210.9,605.0 1211.5,610.0 1212.1,615.0 1212.7,605.0 1213.3,615.0 1213.9,595.0 1214.5,595.0 1215.1,595.0 1215.7,595.0 1216.3,595.0 1216.9,595.0 1217.5,595.0 1218.1,620.0 1218.7,640.0 1219.3,620.0 1219.9,640.0 1220.5,625.0 1221.1,635.0 1221.7,630.0 1222.3,620.0 1222.9,605.0 1223.5,610.0 1224.1,620.0 1224.7,620.0 1225.3,610.0 1225.9,610.0 1226.5,615.0 1227.1,625.0 1227.7,605.0 1228.3,620.0 1228.9,630.0 1229.5,640.0 1230.1,625.0 1230.7,640.0 1231.3,630.0 1231.9,635.0 1232.5,605.0 1233.1,590.0 1233.7,590.0 1234.3,590.0 1234.9,590.0 1235.5,590.0 1236.1,605.0 1236.7,605.0 1237.3,620.0 1237.9,610.0 1238.5,625.0 1239.1,620.0 1239.7,605.0 1240.3,610.0 1240.9,610.0 1241.5,610.0 1242.1,645.0 1242.7,625.0 1243.3,635.0 1243.9,620.0 1244.5,610.0 1245.1,615.0 1245.7,630.0 1246.3,620.0 1246.9,600.0 1247.5,625.0 1248.1,625.0 1248.7,630.0 1249.3,605.0 1249.9,640.0 1250.5,620.0 1251.1,615.0 1251.7,615.0 1252.3,650.0 1252.9,650.0 1253.5,645.0 1254.1,650.0 1254.7,650.0 1255.3,650.0 1255.9,610.0 1256.5,635.0 1257.1,620.0 1257.7,620.0 1258.3,615.0 1258.9,645.0 1259.5,625.0 1260.1,645.0 1260.7,640.0 1261.3,640.0 1261.9,640.0 1262.5,615.0 1263.1,640.0 1263.7,625.0 1264.3,610.0 1264.9,615.0 1265.5,630.0 1266.1,625.0 1266.7,595.0 1267.3,595.0 1267.9,635.0 1268.5,605.0 1269.1,610.0 1269.7,660.0 1270.3,588.0 1270.9,645.0 1271.5,605.0 1272.1,640.0 1272.7,635.0 1273.3,615.0 1273.9,645.0 1274.5,620.0 1275.1,645.0 1275.7,615.0 1276.3,630.0 1276.9,640.0 1277.5,645.0 1278.1,620.0 1278.7,610.0 1279.3,630.0 1279.9,630.0 1280.5,605.0 1281.1,630.0 1281.7,645.0 1282.3,615.0 1282.9,630.0 1283.5,645.0 1284.1,620.0 1284.7,640.0 1285.3,645.0 1285.9,605.0 1286.5,615.0 1287.1,615.0 1287.7,640.0 1288.3,625.0 1288.9,605.0 1289.5,615.0 1290.1,610.0 1290.7,645.0 1291.3,640.0 1291.9,640.0 1292.5,605.0 1293.1,620.0 1293.7,620.0 1294.3,615.0 1294.9,645.0 1295.5,625.0 1296.1,635.0 1296.7,630.0 1297.3,590.0 1297.9,590.0 1298.5,585.0 1299.1,590.0 1299.7,605.0 1300.3,625.0 1300.9,605.0 1301.5,620.0 1302.1,645.0 1302.7,620.0 1303.3,615.0 1303.9,615.0 1304.5,625.0 1305.1,625.0 1305.7,620.0 1306.3,640.0 1306.9,625.0 1307.5,640.0 1308.1,620.0 1308.7,620.0 1309.3,610.0 1309.9,605.0 1310.5,655.0 1311.1,655.0 1311.7,655.0 1312.3,655.0 1312.9,660.0 1313.5,660.0 1314.1,660.0 1314.7,655.0 1315.3,660.0 1315.9,620.0 1316.5,625.0 1317.1,640.0 1317.7,610.0 1318.3,610.0 1318.9,640.0 1319.5,645.0 1320.1,610.0 1320.7,610.0 1321.3,645.0 1321.9,635.0 1322.5,620.0 1323.1,660.0 1323.7,660.0 1324.3,660.0 1324.9,660.0 1325.5,660.0 1326.1,660.0 1326.7,660.0 1327.3,620.0 1327.9,610.0 1328.5,635.0 1329.1,615.0 1329.7,640.0 1330.3,605.0 1330.9,620.0 1331.5,635.0 1332.1,650.0 1332.7,610.0 1333.3,625.0 1333.9,650.0 1334.5,605.0 1335.1,625.0 1335.7,640.0 1336.3,670.0 1336.9,665.0 1337.5,625.0 1338.1,620.0 1338.7,605.0 1339.3,630.0 1339.9,655.0 1340.5,650.0 1341.1,605.0 1341.7,605.0 1342.3,670.0 1342.9,670.0 1343.5,670.0 1344.1,670.0 1344.7,645.0 1345.3,625.0 1345.9,625.0 1346.5,640.0 1347.1,650.0 1347.7,615.0 1348.3,615.0 1348.9,615.0 1349.5,655.0 1350.1,635.0 1350.7,645.0 1351.3,615.0 1351.9,650.0 1352.5,620.0 1353.1,635.0 1353.7,615.0 1354.3,630.0 1354.9,640.0 1355.5,615.0 1356.1,655.0 1356.7,645.0 1357.3,640.0 1357.9,640.0 1358.5,620.0 1359.1,610.0 1359.7,620.0 1360.3,610.0 1360.9,670.0 1361.5,665.0 1362.1,670.0 1362.7,670.0 1363.3,665.0 1363.9,670.0 1364.5,625.0 1365.1,595.0 1365.7,595.0 1366.3,595.0 1366.9,600.0 1367.5,600.0 1368.1,600.0 1368.7,600.0 1369.3,630.0 1369.9,640.0 1370.5,625.0 1371.1,650.0 1371.7,645.0 1372.3,655.0 1372.9,645.0 1373.5,645.0 1374.1,620.0 1374.7,635.0 1375.3,615.0 1375.9,655.0 1376.5,650.0 1377.1,635.0 1377.7,650.0 1378.3,650.0 1378.9,625.0 1379.5,640.0 1380.1,615.0 1380.7,610.0 1381.3,645.0 1381.9,620.0 1382.5,625.0 1383.1,630.0 1383.7,650.0 1384.3,645.0 1384.9,635.0 1385.5,645.0 1386.1,620.0 1386.7,615.0 1387.3,625.0 1387.9,640.0 1388.5,625.0 1389.1,605.0 1389.7,600.0 1390.3,605.0 1390.9,605.0 1391.5,635.0 1392.1,620.0 1392.7,620.0 1393.3,635.0 1393.9,660.0 1394.5,660.0 1395.1,630.0 1395.7,650.0 1396.3,650.0 1396.9,625.0 1397.5,620.0 1398.1,615.0 1398.7,655.0 1399.3,660.0 1399.9,660.0 1400.5,660.0 1401.1,660.0 1401.7,660.0 1402.3,640.0 1402.9,655.0 1403.5,650.0 1404.1,620.0 1404.7,635.0 1405.3,630.0 1405.9,615.0 1406.5,635.0 1407.1,655.0 1407.7,620.0 1408.3,615.0 1408.9,620.0 1409.5,630.0 1410.1,625.0 1410.7,645.0 1411.3,625.0 1411.9,650.0 1412.5,620.0 1413.1,620.0 1413.7,655.0 1414.3,620.0 1414.9,650.0 1415.5,620.0 1416.1,620.0 1416.7,645.0 1417.3,650.0 1417.9,645.0 1418.5,660.0 1419.1,660.0 1419.7,625.0 1420.3,640.0 1420.9,640.0 1421.5,625.0 1422.1,645.0 1422.7,655.0 1423.3,650.0 1423.9,655.0 1424.5,630.0 1425.1,645.0 1425.7,625.0 1426.3,650.0 1426.9,675.0 1427.5,675.0 1428.1,640.0 1428.7,650.0 1429.3,670.0 1429.9,675.0 1430.5,675.0 1431.1,675.0 1431.7,625.0 1432.3,630.0 1432.9,635.0 1433.5,645.0 1434.1,635.0 1434.7,640.0 1435.3,635.0 1435.9,600.0 1436.5,605.0 1437.1,600.0 1437.7,660.0 1438.3,660.0 1438.9,635.0 1439.5,615.0 1440.1,645.0 1440.7,660.0 1441.3,660.0 1441.9,645.0 1442.5,600.0 1443.1,600.0 1443.7,600.0 1444.3,645.0 1444.9,650.0 1445.5,645.0 1446.1,650.0 1446.7,615.0 1447.3,635.0 1447.9,600.0 1448.5,600.0 1449.1,600.0 1449.7,600.0 1450.3,600.0 1450.9,600.0 1451.5,600.0 1452.1,600.0 1452.7,635.0 1453.3,640.0 1453.9,630.0 1454.5,655.0 1455.1,655.0 1455.7,620.0 1456.3,645.0 1456.9,600.0 1457.5,600.0 1458.1,615.0 1458.7,655.0 1459.3,650.0 1459.9,620.0 1460.5,665.0 1461.1,665.0 1461.7,670.0 1462.3,645.0 1462.9,650.0 1463.5,675.0 1464.1,675.0 1464.7,675.0 1465.3,675.0 1465.9,675.0 1466.5,675.0 1467.1,675.0 1467.7,675.0 1468.3,620.0 1468.9,635.0 1469.5,635.0 1470.1,625.0 1470.7,650.0 1471.3,635.0 1471.9,670.0 1472.5,665.0 1473.1,665.0 1473.7,670.0 1474.3,615.0 1474.9,645.0 1475.5,630.0 1476.1,625.0 1476.7,645.0 1477.3,625.0 1477.9,600.0 1478.5,605.0 1479.1,600.0 1479.7,605.0 1480.3,605.0 1480.9,605.0 1481.5,605.0 1482.1,650.0 1482.7,645.0 1483.3,605.0 1483.9,605.0 1484.5,605.0 1485.1,655.0 1485.7,640.0 1486.3,630.0 1486.9,625.0 1487.5,620.0 1488.1,630.0 1488.7,625.0 1489.3,620.0 1489.9,650.0 1490.5,660.0 1491.1,665.0 1491.7,665.0 1492.3,665.0 1492.9,665.0 1493.5,665.0 1494.1,635.0 1494.7,625.0 1495.3,650.0 1495.9,665.0 1496.5,665.0 1497.1,665.0 1497.7,665.0 1498.3,665.0 1498.9,650.0 1499.5,635.0 1500.1,645.0 1500.7,620.0 1501.3,620.0 1501.9,630.0 1502.5,635.0 1503.1,610.0 1503.7,610.0 1504.3,610.0 1504.9,610.0 1505.5,615.0 1506.1,615.0 1506.7,615.0 1507.3,655.0 1507.9,650.0 1508.5,650.0 1509.1,665.0 1509.7,670.0 1510.3,665.0 1510.9,670.0 1511.5,665.0 1512.1,670.0 1512.7,670.0 1513.3,655.0 1513.9,645.0 1514.5,670.0 1515.1,670.0 1515.7,670.0 1516.3,670.0 1516.9,625.0 1517.5,630.0 1518.1,650.0 1518.7,635.0 1519.3,625.0 1519.9,645.0 1520.5,655.0 1521.1,635.0 1521.7,635.0 1522.3,635.0 1522.9,625.0 1523.5,625.0 1524.1,670.0 1524.7,670.0 1525.3,670.0 1525.9,670.0 1526.5,670.0 1527.1,670.0 1527.7,670.0 1528.3,670.0 1528.9,640.0 1529.5,630.0 1530.1,655.0 1530.7,630.0 1531.3,635.0 1531.9,635.0 1532.5,665.0 1533.1,665.0 1533.7,635.0 1534.3,670.0 1534.9,670.0 1535.5,670.0 1536.1,670.0 1536.7,670.0 1537.3,670.0 1537.9,670.0 1538.5,670.0 1539.1,635.0 1539.7,660.0 1540.3,635.0 1540.9,665.0 1541.5,635.0 1542.1,645.0 1542.7,655.0 1543.3,640.0 1543.9,635.0 1544.5,640.0 1545.1,645.0 1545.7,660.0 1546.3,640.0 1546.9,655.0 1547.5,660.0 1548.1,630.0 1548.7,640.0 1549.3,660.0 1549.9,650.0 1550.5,635.0 1551.1,645.0 1551.7,645.0 1552.3,655.0 1552.9,655.0 1553.5,640.0 1554.1,660.0 1554.7,630.0 1555.3,660.0 1555.9,635.0 1556.5,650.0 1557.1,645.0 1557.7,660.0 1558.3,650.0 1558.9,640.0 1559.5,655.0 1560.1,645.0 1560.7,645.0 1561.3,660.0 1561.9,645.0 1562.5,625.0 1563.1,625.0 1563.7,625.0 1564.3,655.0 1564.9,655.0 1565.5,635.0 1566.1,650.0 1566.7,650.0 1567.3,640.0 1567.9,660.0 1568.5,655.0 1569.1,635.0 1569.7,635.0 1570.3,635.0 1570.9,635.0 1571.5,670.0 1572.1,670.0 1572.7,670.0 1573.3,670.0 1573.9,670.0 1574.5,670.0 1575.1,670.0 1575.7,655.0 1576.3,655.0 1576.9,660.0 1577.5,650.0 1578.1,675.0 1578.7,675.0 1579.3,675.0 1579.9,675.0 1580.5,675.0 1581.1,675.0 1581.7,675.0 1582.3,635.0 1582.9,660.0 1583.5,635.0 1584.1,655.0 1584.7,650.0 1585.3,640.0 1585.9,655.0 1586.5,640.0 1587.1,635.0 1587.7,660.0 1588.3,665.0 1588.9,650.0 1589.5,665.0 1590.1,670.0 1590.7,660.0 1591.3,650.0 1591.9,670.0 1592.5,645.0 1593.1,645.0 1593.7,630.0 1594.3,630.0 1594.9,630.0 1595.5,630.0 1596.1,630.0 1596.7,630.0 1597.3,630.0 1597.9,640.0 1598.5,640.0 1599.1,665.0 1599.7,665.0 1600.3,640.0 1600.9,650.0 1601.5,635.0 1602.1,650.0 1602.7,640.0 1603.3,655.0 1603.9,660.0 1604.5,660.0 1605.1,635.0 1605.7,660.0 1606.3,660.0 1606.9,645.0 1607.5,665.0 1608.1,645.0 1608.7,640.0 1609.3,640.0 1609.9,680.0 1610.5,680.0 1611.1,680.0 1611.7,680.0 1612.3,675.0 1612.9,680.0 1613.5,680.0 1614.1,680.0 1614.7,635.0 1615.3,675.0 1615.9,675.0 1616.5,635.0 1617.1,665.0 1617.7,670.0 1618.3,670.0 1618.9,665.0 1619.5,635.0 1620.1,630.0 1620.7,630.0 1621.3,630.0 1621.9,630.0 1622.5,630.0 1623.1,630.0 1623.7,630.0 1624.3,630.0 1624.9,660.0 1625.5,665.0 1626.1,645.0 1626.7,665.0 1627.3,665.0 1627.9,640.0 1628.5,640.0 1629.1,665.0 1629.7,660.0 1630.3,660.0 1630.9,655.0 1631.5,665.0 1632.1,645.0 1632.7,660.0 1633.3,660.0 1633.9,650.0 1634.5,645.0 1635.1,635.0 1635.7,665.0 1636.3,660.0 1636.9,675.0 1637.5,675.0 1638.1,675.0 1638.7,675.0 1639.3,675.0 1639.9,675.0 1640.5,675.0 1641.1,650.0 1641.7,655.0 1642.3,665.0 1642.9,665.0 1643.5,660.0 1644.1,635.0 1644.7,645.0 1645.3,660.0 1645.9,665.0 1646.5,635.0 1647.1,645.0 1647.7,665.0 1648.3,665.0 1648.9,665.0 1649.5,640.0 1650.1,645.0 1650.7,665.0 1651.3,665.0 1651.9,665.0 1652.5,660.0 1653.1,680.0 1653.7,680.0 1654.3,680.0 1654.9,680.0 1655.5,680.0 1656.1,680.0 1656.7,645.0 1657.3,640.0 1657.9,640.0 1658.5,640.0 1659.1,665.0 1659.7,650.0 1660.3,655.0 1660.9,640.0 1661.5,665.0 1662.1,670.0 1662.7,655.0 1663.3,670.0 1663.9,670.0 1664.5,660.0 1665.1,640.0 1665.7,660.0 1666.3,645.0 1666.9,665.0 1667.5,665.0 1668.1,645.0 1668.7,650.0 1669.3,660.0 1669.9,645.0 1670.5,665.0 1671.1,655.0 1671.7,660.0 1672.3,655.0 1672.9,665.0 1673.5,665.0 1674.1,665.0 1674.7,650.0 1675.3,650.0 1675.9,650.0 1676.5,670.0 1677.1,645.0 1677.7,650.0 1678.3,640.0 1678.9,660.0 1679.5,670.0 1680.1,655.0 1680.7,640.0 1681.3,650.0 1681.9,660.0 1682.5,645.0 1683.1,655.0 1683.7,650.0 1684.3,640.0 1684.9,665.0 1685.5,650.0 1686.1,645.0 1686.7,630.0 1687.3,630.0 1687.9,630.0 1688.5,630.0 1689.1,630.0 1689.7,630.0 1690.3,630.0 1690.9,630.0 1691.5,655.0 1692.1,665.0 1692.7,665.0 1693.3,650.0 1693.9,670.0 1694.5,650.0 1695.1,660.0 1695.7,670.0 1696.3,660.0 1696.9,645.0 1697.5,660.0 1698.1,665.0 1698.7,645.0 1699.3,675.0 1699.9,675.0 1700.5,675.0 1701.1,675.0 1701.7,675.0 1702.3,675.0 1702.9,660.0 1703.5,645.0 1704.1,660.0 1704.7,680.0 1705.3,680.0 1705.9,680.0 1706.5,680.0 1707.1,680.0 1707.7,650.0 1708.3,650.0 1708.9,650.0 1709.5,645.0 1710.1,655.0 1710.7,655.0 1711.3,655.0 1711.9,655.0 1712.5,665.0 1713.1,670.0 1713.7,635.0 1714.3,635.0 1714.9,655.0 1715.5,680.0 1716.1,680.0 1716.7,680.0 1717.3,680.0 1717.9,680.0 1718.5,680.0 1719.1,680.0 1719.7,680.0 1720.3,645.0 1720.9,645.0 1721.5,655.0 1722.1,640.0 1722.7,640.0 1723.3,640.0 1723.9,640.0 1724.5,640.0 1725.1,640.0 1725.7,640.0 1726.3,665.0 1726.9,645.0 1727.5,665.0 1728.1,640.0 1728.7,640.0 1729.3,640.0 1729.9,635.0 1730.5,655.0 1731.1,665.0 1731.7,655.0 1732.3,655.0 1732.9,650.0 1733.5,670.0 1734.1,670.0 1734.7,675.0 1735.3,675.0 1735.9,670.0 1736.5,675.0 1737.1,670.0 1737.7,675.0 1738.3,645.0 1738.9,655.0 1739.5,660.0 1740.1,645.0 1740.7,665.0 1741.3,660.0 1741.9,655.0 1742.5,665.0 1743.1,640.0 1743.7,670.0 1744.3,645.0 1744.9,665.0 1745.5,645.0 1746.1,640.0 1746.7,660.0 1747.3,660.0 1747.9,665.0 1748.5,670.0 1749.1,655.0 1749.7,655.0 1750.3,660.0 1750.9,650.0 1751.5,665.0 1752.1,665.0 1752.7,645.0 1753.3,665.0 1753.9,675.0 1754.5,680.0 1755.1,680.0 1755.7,680.0 1756.3,680.0 1756.9,650.0 1757.5,665.0 1758.1,640.0 1758.7,640.0 1759.3,645.0 1759.9,655.0 1760.5,665.0 1761.1,650.0 1761.7,640.0 1762.3,675.0 1762.9,635.0 1763.5,635.0 1764.1,635.0 1764.7,645.0 1765.3,645.0 1765.9,665.0 1766.5,645.0 1767.1,665.0 1767.7,655.0 1768.3,660.0 1768.9,650.0 1769.5,645.0 1770.1,640.0 1770.7,670.0 1771.3,670.0 1771.9,645.0 1772.5,650.0 1773.1,655.0 1773.7,670.0 1774.3,630.0 1774.9,630.0 1775.5,625.0 1776.1,630.0 1776.7,630.0 1777.3,655.0 1777.9,640.0 1778.5,665.0 1779.1,640.0 1779.7,670.0 1780.3,670.0 1780.9,670.0 1781.5,640.0 1782.1,655.0 1782.7,670.0 1783.3,660.0 1783.9,635.0 1784.5,680.0 1785.1,680.0 1785.7,680.0 1786.3,680.0 1786.9,655.0 1787.5,665.0 1788.1,660.0 1788.7,675.0 1789.3,680.0 1789.9,635.0 1790.5,645.0 1791.1,655.0 1791.7,670.0 1792.3,645.0 1792.9,665.0 1793.5,675.0 1794.1,650.0 1794.7,625.0 1795.3,625.0 1795.9,625.0 1796.5,625.0 1797.1,625.0 1797.7,625.0 1798.3,635.0 1798.9,655.0 1799.5,655.0 1800.1,670.0 1800.7,660.0 1801.3,670.0 1801.9,655.0 1802.5,660.0 1803.1,665.0 1803.7,650.0 1804.3,650.0 1804.9,660.0 1805.5,635.0 1806.1,650.0 1806.7,640.0 1807.3,650.0 1807.9,635.0 1808.5,635.0 1809.1,655.0 1809.7,645.0 1810.3,660.0 1810.9,655.0 1811.5,650.0 1812.1,665.0 1812.7,635.0 1813.3,670.0 1813.9,640.0 1814.5,640.0 1815.1,675.0 1815.7,645.0 1816.3,655.0 1816.9,650.0 1817.5,645.0 1818.1,655.0 1818.7,670.0 1819.3,650.0 1819.9,660.0 1820.5,670.0 1821.1,655.0 1821.7,650.0 1822.3,630.0 1822.9,630.0 1823.5,630.0 1824.1,670.0 1824.7,650.0 1825.3,670.0 1825.9,650.0 1826.5,640.0 1827.1,660.0 1827.7,670.0 1828.3,645.0 1828.9,670.0 1829.5,665.0 1830.1,650.0 1830.7,665.0 1831.3,650.0 1831.9,660.0 1832.5,655.0 1833.1,645.0 1833.7,655.0 1834.3,655.0 1834.9,645.0 1835.5,670.0 1836.1,650.0 1836.7,650.0 1837.3,670.0 1837.9,655.0 1838.5,655.0 1839.1,665.0 1839.7,650.0 1840.3,670.0 1840.9,655.0 1841.5,650.0 1842.1,650.0 1842.7,650.0 1843.3,670.0 1843.9,655.0 1844.5,640.0 1845.1,645.0 1845.7,665.0 1846.3,670.0 1846.9,670.0 1847.5,640.0 1848.1,650.0 1848.7,665.0 1849.3,665.0 1849.9,665.0 1850.5,645.0 1851.1,665.0 1851.7,660.0 1852.3,670.0 1852.9,655.0 1853.5,660.0 1854.1,645.0 1854.7,665.0 1855.3,640.0 1855.9,665.0 1856.5,660.0 1857.1,650.0 1857.7,645.0 1858.3,655.0 1858.9,665.0 1859.5,670.0 1860.1,670.0 1860.7,655.0 1861.3,650.0 1861.9,645.0 1862.5,665.0 1863.1,660.0 1863.7,645.0 1864.3,655.0 1864.9,650.0 1865.5,665.0 1866.1,640.0 1866.7,645.0 1867.3,645.0 1867.9,655.0 1868.5,650.0 1869.1,660.0 1869.7,655.0 1870.3,650.0 1870.9,660.0 1871.5,655.0 1872.1,680.0 1872.7,680.0 1873.3,680.0 1873.9,680.0 1874.5,680.0 1875.1,680.0 1875.7,665.0 1876.3,655.0 1876.9,655.0 1877.5,665.0 1878.1,635.0 1878.7,640.0 1879.3,660.0 1879.9,640.0 1880.5,635.0 1881.1,670.0 1881.7,635.0 1882.3,665.0 1882.9,670.0 1883.5,650.0 1884.1,655.0 1884.7,640.0 1885.3,670.0 1885.9,665.0 1886.5,645.0 1887.1,635.0 1887.7,660.0 1888.3,670.0 1888.9,640.0 1889.5,665.0 1890.1,665.0 1890.7,625.0 1891.3,625.0 1891.9,625.0 1892.5,645.0 1893.1,650.0 1893.7,640.0 1894.3,625.0 1894.9,625.0 1895.5,625.0 1896.1,625.0 1896.7,640.0 1897.3,665.0 1897.9,640.0 1898.5,640.0 1899.1,625.0 1899.7,625.0 1900.3,625.0 1900.9,625.0 1901.5,625.0 1902.1,625.0 1902.7,625.0 1903.3,645.0 1903.9,650.0 1904.5,645.0 1905.1,640.0 1905.7,660.0 1906.3,665.0 1906.9,685.0 1907.5,685.0 1908.1,685.0 1908.7,685.0 1909.3,685.0 1909.9,665.0 1910.5,660.0 1911.1,635.0 1911.7,655.0 1912.3,670.0 1912.9,665.0 1913.5,650.0 1914.1,665.0 1914.7,685.0 1915.3,685.0 1915.9,685.0 1916.5,635.0 1917.1,670.0 1917.7,665.0 1918.3,645.0 1918.9,670.0 1919.5,655.0 1920.1,670.0"/>
<polyline stroke="#f00" points="185.5,1084.0 186.1,1078.0 186.7,1060.0 187.3,1072.0 187.9,1042.0 188.5,1042.0 189.1,1042.0 189.7,1042.0 190.3,1042.0 190.9,1042.0 191.5,1042.0 192.1,1042.0 192.7,1042.0 193.3,1078.0 193.9,1096.0 194.5,1096.0 195.1,1096.0 195.7,1078.0 196.3,1090.0 196.9,1054.0 197.5,1054.0 198.1,1096.0 198.7,1090.0 199.3,1102.0 199.9,1072.0 200.5,1078.0 201.1,1054.0 201.7,1054.0 202.3,1054.0 202.9,1054.0 203.5,1054.0 204.1,1096.0 204.7,1096.0 205.3,1108.0 205.9,1108.0 206.5,1108.0 207.1,1084.0 207.7,1102.0 208.3,1114.0 208.9,1114.0 209.5,1114.0 210.1,1084.0 210.7,1054.0 211.3,1054.0 211.9,1054.0 212.5,1060.0 213.1,1060.0 213.7,1108.0 214.3,1090.0 214.9,1066.0 215.5,1078.0 216.1,1090.0 216.7,1072.0 217.3,1102.0 217.9,1084.0 218.5,1090.0 219.1,1096.0 219.7,1072.0 220.3,1108.0 220.9,1102.0 221.5,1072.0 222.1,1090.0 222.7,1090.0 223.3,1114.0 223.9,1114.0 224.5,1114.0 225.1,1096.0 225.7,1084.0 226.3,1072.0 226.9,1060.0 227.5,1060.0 228.1,1066.0 228.7,1066.0 229.3,1084.0 229.9,1090.0 230.5,1096.0 231.1,1078.0 231.7,1072.0 232.3,1108.0 232.9,1078.0 233.5,1084.0 234.1,1102.0 234.7,1114.0 235.3,1078.0 235.9,1090.0 236.5,1108.0 237.1,1078.0 237.7,1114.0 238.3,1096.0 238.9,1108.0 239.5,1078.0 240.1,1090.0 240.7,1096.0 241.3,1096.0 241.9,1096.0 242.5,1114.0 243.1,1114.0 243.7,1084.0 244.3,1084.0 244.9,1090.0 245.5,1078.0 246.1,1084.0 246.7,1102.0 247.3,1114.0 247.9,1090.0 248.5,1084.0 249.1,1102.0 249.7,1090.0 250.3,1078.0 250.9,1084.0 251.5,1114.0 252.1,1084.0 252.7,1108.0 253.3,1096.0 253.9,1114.0 254.5,1102.0 255.1,1090.0 255.7,1090.0 256.3,1090.0 256.9,1090.0 257.5,1072.0 258.1,1072.0 258.7,1072.0 259.3,1072.0 259.9,1072.0 260.5,1072.0 261.1,1120.0 261.7,1120.0 262.3,1096.0 262.9,1126.0 263.5,1126.0 264.1,1126.0 264.7,1126.0 265.3,1126.0 265.9,1126.0 266.5,1126.0 267.1,1126.0 267.7,1108.0 268.3,1108.0 268.9,1108.0 269.5,1114.0 270.1,1108.0 270.7,1090.0 271.3,1114.0 271.9,1114.0 272.5,1096.0 273.1,1096.0 273.7,1114.0 274.3,1102.0 274.9,1120.0 275.5,1096.0 276.1,1114.0 276.7,1114.0 277.3,1090.0 277.9,1132.0 278.5,1132.0 279.1,1132.0 279.7,1132.0 280.3,1132.0 280.9,1132.0 281.5,1096.0 282.1,1114.0 282.7,1102.0 283.3,1108.0 283.9,1078.0 284.5,1078.0 285.1,1078.0 285.7,1078.0 286.3,1078.0 286.9,1078.0 287.5,1078.0 288.1,1078.0 288.7,1102.0 289.3,1126.0 289.9,1108.0 290.5,1138.0 291.1,1138.0 291.7,1138.0 292.3,1138.0 292.9,1138.0 293.5,1120.0 294.1,1096.0 294.7,1108.0 295.3,1096.0 295.9,1096.0 296.5,1108.0 297.1,1126.0 297.7,1096.0 298.3,1096.0 298.9,1120.0 299.5,1108.0 300.1,1090.0 300.7,1114.0 301.3,1126.0 301.9,1120.0 302.5,1132.0 303.1,1120.0 303.7,1102.0 304.3,1138.0 304.9,1138.0 305.5,1096.0 306.1,1108.0 306.7,1126.0 307.3,1114.0 307.9,1108.0 308.5,1120.0 309.1,1120.0 309.7,1096.0 310.3,1108.0 310.9,1120.0 311.5,1096.0 312.1,1114.0 312.7,1096.0 313.3,1102.0 313.9,1120.0 314.5,1108.0 315.1,1126.0 315.7,1090.0 316.3,1090.0 316.9,1090.0 317.5,1090.0 318.1,1090.0 318.7,1090.0 319.3,1090.0 319.9,1090.0 320.5,1114.0 321.1,1114.0 321.7,1108.0 322.3,1126.0 322.9,1138.0 323.5,1138.0 324.1,1138.0 324.7,1138.0 325.3,1138.0 325.9,1138.0 326.5,1138.0 327.1,1138.0 327.7,1114.0 328.3,1138.0 328.9,1132.0 329.5,1132.0 330.1,1132.0 330.7,1102.0 331.3,1096.0 331.9,1096.0 332.5,1096.0 333.1,1096.0 333.7,1096.0 334.3,1096.0 334.9,1108.0 335.5,1114.0 336.1,1114.0 336.7,1114.0 337.3,1126.0 337.9,1108.0 338.5,1114.0 339.1,1114.0 339.7,1120.0 340.3,1120.0 340.9,1102.0 341.5,1132.0 342.1,1120.0 342.7,1108.0 343.3,1144.0 343.9,1144.0 344.5,1144.0 345.1,1144.0 345.7,1144.0 346.3,1144.0 346.9,1144.0 347.5,1144.0 348.1,1144.0 348.7,1132.0 349.3,1108.0 349.9,1132.0 350.5,1132.0 351.1,1120.0 351.7,1114.0 352.3,1126.0 352.9,1114.0 353.5,1114.0 354.1,1108.0 354.7,1126.0 355.3,1108.0 355.9,1120.0 356.5,1114.0 357.1,1138.0 357.7,1102.0 358.3,1120.0 358.9,1108.0 359.5,1132.0 360.1,1102.0 360.7,1090.0 361.3,1090.0 361.9,1090.0 362.5,1090.0 363.1,1090.0 363.7,1090.0 364.3,1090.0 364.9,1090.0 365.5,1090.0 366.1,1132.0 366.7,1108.0 367.3,1102.0 367.9,1120.0 368.5,1108.0 369.1,1108.0 369.7,1132.0 370.3,1120.0 370.9,1108.0 371.5,1120.0 372.1,1114.0 372.7,1126.0 373.3,1114.0 373.9,1114.0 374.5,1108.0 375.1,1132.0 375.7,1132.0 376.3,1102.0 376.9,1126.0 377.5,1132.0 378.1,1126.0 378.7,1126.0 379.3,1108.0 379.9,1132.0 380.5,1114.0 381.1,1126.0 381.7,1126.0 382.3,1120.0 382.9,1132.0 383.5,1132.0 384.1,1114.0 384.7,1114.0 385.3,1132.0 385.9,1114.0 386.5,1132.0 387.1,1108.0 387.7,1108.0 388.3,1114.0 388.9,1114.0 389.5,1114.0 390.1,1108.0 390.7,1108.0 391.3,1114.0 391.9,1108.0 392.5,1114.0 393.1,1114.0 393.7,1132.0 394.3,1114.0 394.9,1120.0 395.5,1132.0 396.1,1114.0 396.7,1090.0 397.3,1090.0 397.9,1090.0 398.5,1090.0 399.1,1090.0 399.7,1114.0 400.3,1096.0 400.9,1096.0 401.5,1096.0 402.1,1096.0 402.7,1096.0 403.3,1102.0 403.9,1126.0 404.5,1120.0 405.1,1126.0 405.7,1138.0 406.3,1138.0 406.9,1138.0 407.5,1138.0 408.1,1138.0 408.7,1138.0 409.3,1114.0 409.9,1132.0 410.5,1132.0 411.1,1132.0 411.7,1132.0 412.3,1132.0 412.9,1132.0 413.5,1132.0 414.1,1132.0 414.7,1114.0 415.3,1114.0 415.9,1108.0 416.5,1132.0 417.1,1114.0 417.7,1126.0 418.3,1126.0 418.9,1108.0 419.5,1108.0 420.1,1114.0 420.7,1108.0 421.3,1126.0 421.9,1126.0 422.5,1120.0 423.1,1114.0 423.7,1108.0 424.3,1108.0 424.9,1120.0 425.5,1108.0 426.1,1114.0 426.7,1126.0 427.3,1126.0 427.9,1120.0 428.5,1132.0 429.1,1132.0 429.7,1132.0 430.3,1132.0 430.9,1132.0 431.5,1126.0 432.1,1120.0 432.7,1126.0 433.3,1120.0 433.9,1126.0 434.5,1120.0 435.1,1120.0 435.7,1126.0 436.3,1126.0 436.9,1102.0 437.5,1126.0 438.1,1108.0 438.7,1120.0 439.3,1120.0 439.9,1132.0 440.5,1132.0 441.1,1132.0 441.7,1132.0 442.3,1132.0 442.9,1132.0 443.5,1132.0 444.1,1126.0 444.7,1126.0 445.3,1114.0 445.9,1102.0 446.5,1138.0 447.1,1138.0 447.7,1138.0 448.3,1138.0 448.9,1138.0 449.5,1108.0 450.1,1108.0 450.7,1120.0 451.3,1096.0 451.9,1096.0 452.5,1096.0 453.1,1096.0 453.7,1096.0 454.3,1096.0 454.9,1096.0 455.5,1090.0 456.1,1096.0 456.7,1132.0 457.3,1126.0 457.9,1132.0 458.5,1114.0 459.1,1126.0 459.7,1132.0 460.3,1096.0 460.9,1114.0 461.5,1120.0 462.1,1102.0 462.7,1096.0 463.3,1114.0 463.9,1096.0 464.5,1096.0 465.1,1096.0 465.7,1120.0 466.3,1096.0 466.9,1126.0 467.5,1114.0 468.1,1108.0 468.7,1096.0 469.3,1108.0 469.9,1102.0 470.5,1126.0 471.1,1114.0 471.7,1090.0 472.3,1126.0 472.9,1132.0 473.5,1132.0 474.1,1102.0 474.7,1108.0 475.3,1120.0 475.9,1096.0 476.5,1108.0 477.1,1102.0 477.7,1126.0 478.3,1090.0 478.9,1126.0 479.5,1090.0 480.1,1084.0 480.7,1084.0 481.3,1084.0 481.9,1084.0 482.5,1084.0 483.1,1084.0 483.7,1120.0 484.3,1120.0 484.9,1102.0 485.5,1114.0 486.1,1108.0 486.7,1120.0 487.3,1096.0 487.9,1102.0 488.5,1108.0 489.1,1090.0 489.7,1096.0 490.3,1102.0 490.9,1096.0 491.5,1090.0 492.1,1090.0 492.7,1072.0 493.3,1078.0 493.9,1072.0 494.5,1066.0 495.1,1066.0 495.7,1066.0 496.3,1072.0 496.9,1078.0 497.5,1078.0 498.1,1090.0 498.7,1084.0 499.3,1096.0 499.9,1108.0 500.5,1114.0 501.1,1096.0 501.7,1120.0 502.3,1126.0 502.9,1126.0 503.5,1126.0 504.1,1126.0 504.7,1126.0 505.3,1120.0 505.9,1114.0 506.5,1096.0 507.1,1120.0 507.7,1114.0 508.3,1126.0 508.9,1090.0 509.5,1114.0 510.1,1108.0 510.7,1102.0 511.3,1096.0 511.9,1120.0 512.5,1096.0 513.1,1102.0 513.7,1108.0 514.3,1102.0 514.9,1114.0 515.5,1102.0 516.1,1120.0 516.7,1126.0 517.3,1126.0 517.9,1126.0 518.5,1126.0 519.1,1126.0 519.7,1096.0 520.3,1096.0 520.9,1096.0 521.5,1096.0 522.1,1096.0 522.7,1120.0 523.3,1114.0 523.9,1108.0 524.5,1120.0 525.1,1108.0 525.7,1126.0 526.3,1126.0 526.9,1108.0 527.5,1126.0 528.1,1120.0 528.7,1114.0 529.3,1114.0 529.9,1120.0 530.5,1126.0 531.1,1132.0 531.7,1132.0 532.3,1132.0 532.9,1132.0 533.5,1132.0 534.1,1132.0 534.7,1096.0 535.3,1114.0 535.9,1096.0 536.5,1138.0 537.1,1132.0 537.7,1138.0 538.3,1108.0 538.9,1096.0 539.5,1120.0 540.1,1126.0 540.7,1114.0 541.3,1096.0 541.9,1120.0 542.5,1102.0 543.1,1120.0 543.7,1120.0 544.3,1114.0 544.9,1096.0 545.5,1108.0 546.1,1096.0 546.7,1120.0 547.3,1096.0 547.9,1132.0 548.5,1132.0 549.1,1132.0 549.7,1108.0 550.3,1096.0 550.9,1120.0 551.5,1132.0 552.1,1132.0 552.7,1132.0 553.3,1102.0 553.9,1126.0 554.5,1114.0 555.1,1114.0 555.7,1114.0 556.3,1096.0 556.9,1102.0 557.5,1126.0 558.1,1096.0 558.7,1114.0 559.3,1102.0 559.9,1138.0 560.5,1138.0 561.1,1138.0 561.7,1138.0 562.3,1132.0 562.9,1132.0 563.5,1132.0 564.1,1096.0 564.7,1096.0 565.3,1096.0 565.9,1102.0 566.5,1096.0 567.1,1114.0 567.7,1102.0 568.3,1108.0 568.9,1132.0 569.5,1132.0 570.1,1096.0 570.7,1102.0 571.3,1108.0 571.9,1108.0 572.5,1090.0 573.1,1114.0 573.7,1114.0 574.3,1102.0 574.9,1090.0 575.5,1114.0 576.1,1090.0 576.7,1090.0 577.3,1108.0 577.9,1102.0 578.5,1120.0 579.1,1126.0 579.7,1132.0 580.3,1126.0 580.9,1132.0 581.5,1114.0 582.1,1090.0 582.7,1090.0 583.3,1120.0 583.9,1108.0 584.5,1102.0 585.1,1090.0 585.7,1096.0 586.3,1090.0 586.9,1120.0 587.5,1120.0 588.1,1108.0 588.7,1114.0 589.3,1090.0 589.9,1096.0 590.5,1108.0 591.1,1108.0 591.7,1108.0 592.3,1090.0 592.9,1078.0 593.5,1078.0 594.1,1078.0 594.7,1072.0 595.3,1090.0 595.9,1102.0 596.5,1108.0 597.1,1120.0 597.7,1114.0 598.3,1102.0 598.9,1114.0 599.5,1102.0 600.1,1090.0 600.7,1096.0 601.3,1108.0 601.9,1108.0 602.5,1102.0 603.1,1096.0 603.7,1084.0 604.3,1114.0 604.9,1090.0 605.5,1114.0 606.1,1078.0 606.7,1078.0 607.3,1078.0 607.9,1078.0 608.5,1078.0 609.1,1078.0 609.7,1096.0 610.3,1120.0 610.9,1108.0 611.5,1114.0 612.1,1114.0 612.7,1096.0 613.3,1108.0 613.9,1090.0 614.5,1090.0 615.1,1096.0 615.7,1114.0 616.3,1102.0 616.9,1120.0 617.5,1108.0 618.1,1120.0 618.7,1120.0 619.3,1102.0 619.9,1090.0 620.5,1108.0 621.1,1108.0 621.7,1090.0 622.3,1096.0 622.9,1126.0 623.5,1120.0 624.1,1102.0 624.7,1084.0 625.3,1084.0 625.9,1084.0 626.5,1126.0 627.1,1132.0 627.7,1132.0 628.3,1132.0 628.9,1132.0 629.5,1132.0 630.1,1132.0 630.7,1132.0 631.3,1132.0 631.9,1132.0 632.5,1120.0 633.1,1090.0 633.7,1096.0 634.3,1108.0 634.9,1120.0 635.5,1102.0 636.1,1108.0 636.7,1126.0 637.3,1120.0 637.9,1090.0 638.5,1114.0 639.1,1096.0 639.7,1126.0 640.3,1114.0 640.9,1120.0 641.5,1108.0 642.1,1090.0 642.7,1096.0 643.3,1090.0 643.9,1114.0 644.5,1120.0 645.1,1108.0 645.7,1120.0 646.3,1096.0 646.9,1108.0 647.5,1108.0 648.1,1108.0 648.7,1084.0 649.3,1078.0 649.9,1078.0 650.5,1078.0 651.1,1078.0 651.7,1084.0 652.3,1084.0 652.9,1084.0 653.5,1084.0 654.1,1120.0 654.7,1138.0 655.3,1138.0 655.9,1138.0 656.5,1138.0 657.1,1138.0 657.7,1138.0 658.3,1114.0 658.9,1126.0 659.5,1120.0 660.1,1096.0 660.7,1108.0 661.3,1102.0 661.9,1108.0 662.5,1132.0 663.1,1126.0 663.7,1132.0 664.3,1126.0 664.9,1132.0 665.5,1108.0 666.1,1126.0 666.7,1114.0 667.3,1126.0 667.9,1102.0 668.5,1126.0 669.1,1108.0 669.7,1090.0 670.3,1090.0 670.9,1114.0 671.5,1114.0 672.1,1132.0 672.7,1126.0 673.3,1108.0 673.9,1120.0 674.5,1132.0 675.1,1132.0 675.7,1126.0 676.3,1114.0 676.9,1132.0 677.5,1114.0 678.1,1126.0 678.7,1126.0 679.3,1126.0 679.9,1132.0 680.5,1138.0 681.1,1132.0 681.7,1132.0 682.3,1132.0 682.9,1132.0 683.5,1132.0 684.1,1132.0 684.7,1132.0 685.3,1108.0 685.9,1126.0 686.5,1132.0 687.1,1102.0 687.7,1114.0 688.3,1120.0 688.9,1120.0 689.5,1126.0 690.1,1102.0 690.7,1102.0 691.3,1126.0 691.9,1108.0 692.5,1114.0 693.1,1108.0 693.7,1132.0 694.3,1120.0 694.9,1102.0 695.5,1132.0 696.1,1120.0 696.7,1108.0 697.3,1108.0 697.9,1102.0 698.5,1132.0 699.1,1108.0 699.7,1108.0 700.3,1120.0 700.9,1102.0 701.5,1126.0 702.1,1126.0 702.7,1120.0 703.3,1114.0 703.9,1108.0 704.5,1126.0 705.1,1132.0 705.7,1120.0 706.3,1132.0 706.9,1108.0 707.5,1126.0 708.1,1108.0 708.7,1108.0 709.3,1102.0 709.9,1132.0 710.5,1108.0 711.1,1108.0 711.7,1114.0 712.3,1114.0 712.9,1126.0 713.5,1102.0 714.1,1102.0 714.7,1108.0 715.3,1132.0 715.9,1126.0 716.5,1132.0 717.1,1120.0 717.7,1102.0 718.3,1120.0 718.9,1108.0 719.5,1108.0 720.1,1114.0 720.7,1126.0 721.3,1120.0 721.9,1096.0 722.5,1096.0 723.1,1096.0 723.7,1096.0 724.3,1096.0 724.9,1096.0 725.5,1096.0 726.1,1114.0 726.7,1108.0 727.3,1126.0 727.9,1120.0 728.5,1126.0 729.1,1114.0 729.7,1102.0 730.3,1126.0 730.9,1102.0 731.5,1096.0 732.1,1096.0 732.7,1096.0 733.3,1102.0 733.9,1096.0 734.5,1126.0 735.1,1102.0 735.7,1108.0 736.3,1120.0 736.9,1114.0 737.5,1120.0 738.1,1114.0 738.7,1102.0 739.3,1102.0 739.9,1138.0 740.5,1138.0 741.1,1138.0 741.7,1138.0 742.3,1138.0 742.9,1132.0 743.5,1102.0 744.1,1096.0 744.7,1096.0 745.3,1096.0 745.9,1096.0 746.5,1096.0 747.1,1102.0 747.7,1120.0 748.3,1090.0 748.9,1090.0 749.5,1090.0 750.1,1102.0 750.7,1102.0 751.3,1108.0 751.9,1114.0 752.5,1114.0 753.1,1102.0 753.7,1096.0 754.3,1090.0 754.9,1096.0 755.5,1114.0 756.1,1120.0 756.7,1114.0 757.3,1102.0 757.9,1096.0 758.5,1084.0 759.1,1108.0 759.7,1102.0 760.3,1096.0 760.9,1090.0 761.5,1078.0 762.1,1066.0 762.7,1060.0 763.3,1042.0 763.9,1018.0 764.5,1000.0 765.1,988.0 765.7,982.0 766.3,970.0 766.9,958.0 767.5,952.0 768.1,952.0 768.7,958.0 769.3,964.0 769.9,976.0 770.5,988.0 771.1,1006.0 771.7,1018.0 772.3,1030.0 772.9,1036.0 773.5,1048.0 774.1,1060.0 774.7,1072.0 775.3,1084.0 775.9,1066.0 776.5,1096.0 777.1,1108.0 777.7,1114.0 778.3,1114.0 778.9,1120.0 779.5,1120.0 780.1,1090.0 780.7,1090.0 781.3,1108.0 781.9,1096.0 782.5,1120.0 783.1,1096.0 783.7,1096.0 784.3,1126.0 784.9,1090.0 785.5,1090.0 786.1,1090.0 786.7,1090.0 787.3,1114.0 787.9,1126.0 788.5,1120.0 789.1,1120.0 789.7,1114.0 790.3,1114.0 790.9,1126.0 791.5,1108.0 792.1,1090.0 792.7,1090.0 793.3,1090.0 793.9,1090.0 794.5,1090.0 795.1,1090.0 795.7,1090.0 796.3,1090.0 796.9,1120.0 797.5,1120.0 798.1,1120.0 798.7,1114.0 799.3,1108.0 799.9,1126.0 800.5,1144.0 801.1,1144.0 801.7,1144.0 802.3,1144.0 802.9,1144.0 803.5,1144.0 804.1,1144.0 804.7,1132.0 805.3,1114.0 805.9,1120.0 806.5,1102.0 807.1,1120.0 807.7,1108.0 808.3,1114.0 808.9,1114.0 809.5,1132.0 810.1,1096.0 810.7,1096.0 811.3,1096.0 811.9,1096.0 812.5,1096.0 813.1,1114.0 813.7,1102.0 814.3,1108.0 814.9,1126.0 815.5,1114.0 816.1,1132.0 816.7,1126.0 817.3,1132.0 817.9,1108.0 818.5,1132.0 819.1,1108.0 819.7,1120.0 820.3,1132.0 820.9,1150.0 821.5,1120.0 822.1,1114.0 822.7,1102.0 823.3,1120.0 823.9,1102.0 824.5,1102.0 825.1,1114.0 825.7,1108.0 826.3,1126.0 826.9,1120.0 827.5,1114.0 828.1,1114.0 828.7,1102.0 829.3,1102.0 829.9,1102.0 830.5,1102.0 831.1,1102.0 831.7,1102.0 832.3,1102.0 832.9,1102.0 833.5,1108.0 834.1,1108.0 834.7,1120.0 835.3,1126.0 835.9,1108.0 836.5,1132.0 837.1,1108.0 837.7,1114.0 838.3,1096.0 838.9,1090.0 839.5,1096.0 840.1,1120.0 840.7,1102.0 841.3,1108.0 841.9,1144.0 842.5,1150.0 843.1,1144.0 843.7,1144.0 844.3,1144.0 844.9,1144.0 845.5,1144.0 846.1,1144.0 846.7,1144.0 847.3,1108.0 847.9,1108.0 848.5,1126.0 849.1,1126.0 849.7,1108.0 850.3,1114.0 850.9,1108.0 851.5,1132.0 852.1,1132.0 852.7,1126.0 853.3,1120.0 853.9,1120.0 854.5,1114.0 855.1,1108.0 855.7,1120.0 856.3,1120.0 856.9,1144.0 857.5,1144.0 858.1,1132.0 858.7,1126.0 859.3,1138.0 859.9,1138.0 860.5,1138.0 861.1,1138.0 861.7,1138.0 862.3,1138.0 862.9,1120.0 863.5,1126.0 864.1,1114.0 864.7,1120.0 865.3,1132.0 865.9,1120.0 866.5,1096.0 867.1,1096.0 867.7,1108.0 868.3,1108.0 868.9,1114.0 869.5,1108.0 870.1,1132.0 870.7,1132.0 871.3,1132.0 871.9,1132.0 872.5,1126.0 873.1,1126.0 873.7,1120.0 874.3,1108.0 874.9,1126.0 875.5,1126.0 876.1,1120.0 876.7,1120.0 877.3,1120.0 877.9,1114.0 878.5,1114.0 879.1,1084.0 879.7,1108.0 880.3,1108.0 880.9,1084.0 881.5,1060.0 882.1,1048.0 882.7,1042.0 883.3,1054.0 883.9,1048.0 884.5,1030.0 885.1,1000.0 885.7,982.0 886.3,970.0 886.9,946.0 887.5,928.0 888.1,898.0 888.7,862.0 889.3,826.0 889.9,790.0 890.5,754.0 891.1,718.0 891.7,682.0 892.3,658.0 892.9,640.0 893.5,628.0 894.1,628.0 894.7,640.0 895.3,658.0 895.9,688.0 896.5,718.0 897.1,754.0 897.7,790.0 898.3,826.0 898.9,862.0 899.5,886.0 900.1,922.0 900.7,940.0 901.3,964.0 901.9,1000.0 902.5,1006.0 903.1,1024.0 903.7,1036.0 904.3,1060.0 904.9,1054.0 905.5,1072.0 906.1,1072.0 906.7,1090.0 907.3,1078.0 907.9,1096.0 908.5,1108.0 909.1,1102.0 909.7,1102.0 910.3,1108.0 910.9,1102.0 911.5,1084.0 912.1,1090.0 912.7,1090.0 913.3,1102.0 913.9,1108.0 914.5,1120.0 915.1,1108.0 915.7,1108.0 916.3,1108.0 916.9,1108.0 917.5,1126.0 918.1,1120.0 918.7,1120.0 919.3,1102.0 919.9,1102.0 920.5,1108.0 921.1,1126.0 921.7,1108.0 922.3,1108.0 922.9,1108.0 923.5,1108.0 924.1,1108.0 924.7,1108.0 925.3,1102.0 925.9,1096.0 926.5,1090.0 927.1,1084.0 927.7,1084.0 928.3,1078.0 928.9,1078.0 929.5,1078.0 930.1,1078.0 930.7,1084.0 931.3,1090.0 931.9,1090.0 932.5,1096.0 933.1,1102.0 933.7,1102.0 934.3,1114.0 934.9,1126.0 935.5,1132.0 936.1,1132.0 936.7,1132.0 937.3,1138.0 937.9,1138.0 938.5,1138.0 939.1,1138.0 939.7,1126.0 940.3,1138.0 940.9,1132.0 941.5,1120.0 942.1,1126.0 942.7,1138.0 943.3,1126.0 943.9,1132.0 944.5,1126.0 945.1,1120.0 945.7,1126.0 946.3,1132.0 946.9,1138.0 947.5,1126.0 948.1,1138.0 948.7,1126.0 949.3,1126.0 949.9,1132.0 950.5,1144.0 951.1,1132.0 951.7,1132.0 952.3,1126.0 952.9,1126.0 953.5,1138.0 954.1,1138.0 954.7,1132.0 955.3,1144.0 955.9,1126.0 956.5,1138.0 957.1,1132.0 957.7,1132.0 958.3,1132.0 958.9,1126.0 959.5,1126.0 960.1,1126.0 960.7,1132.0 961.3,1144.0 961.9,1126.0 962.5,1144.0 963.1,1144.0 963.7,1144.0 964.3,1126.0 964.9,1126.0 965.5,1144.0 966.1,1120.0 966.7,1120.0 967.3,1120.0 967.9,1120.0 968.5,1120.0 969.1,1120.0 969.7,1120.0 970.3,1120.0 970.9,1144.0 971.5,1138.0 972.1,1126.0 972.7,1126.0 973.3,1120.0 973.9,1120.0 974.5,1138.0 975.1,1138.0 975.7,1144.0 976.3,1126.0 976.9,1120.0 977.5,1120.0 978.1,1120.0 978.7,1120.0 979.3,1120.0 979.9,1120.0 980.5,1120.0 981.1,1120.0 981.7,1126.0 982.3,1144.0 982.9,1138.0 983.5,1132.0 984.1,1138.0 984.7,1132.0 985.3,1132.0 985.9,1132.0 986.5,1126.0 987.1,1138.0 987.7,1132.0 988.3,1132.0 988.9,1138.0 989.5,1138.0 990.1,1144.0 990.7,1144.0 991.3,1150.0 991.9,1126.0 992.5,1138.0 993.1,1126.0 993.7,1132.0 994.3,1144.0 994.9,1120.0 995.5,1120.0 996.1,1120.0 996.7,1120.0 997.3,1120.0 997.9,1120.0 998.5,1144.0 999.1,1138.0 999.7,1126.0 1000.3,1138.0 1000.9,1138.0 1001.5,1132.0 1002.1,1144.0 1002.7,1144.0 1003.3,1132.0 1003.9,1144.0 1004.5,1138.0 1005.1,1126.0 1005.7,1132.0 1006.3,1126.0 1006.9,1138.0 1007.5,1150.0 1008.1,1150.0 1008.7,1150.0 1009.3,1150.0 1009.9,1150.0 1010.5,1150.0 1011.1,1150.0 1011.7,1150.0 1012.3,1132.0 1012.9,1126.0 1013.5,1150.0 1014.1,1150.0 1014.7,1150.0 1015.3,1150.0 1015.9,1150.0 1016.5,1150.0 1017.1,1150.0 1017.7,1150.0 1018.3,1144.0 1018.9,1138.0 1019.5,1144.0 1020.1,1144.0 1020.7,1144.0 1021.3,1144.0 1021.9,1144.0 1022.5,1144.0 1023.1,1138.0 1023.7,1138.0 1024.3,1126.0 1024.9,1120.0 1025.5,1120.0 1026.1,1120.0 1026.7,1120.0 1027.3,1138.0 1027.9,1132.0 1028.5,1132.0 1029.1,1144.0 1029.7,1126.0 1030.3,1138.0 1030.9,1126.0 1031.5,1120.0 1032.1,1138.0 1032.7,1126.0 1033.3,1126.0 1033.9,1138.0 1034.5,1126.0 1035.1,1132.0 1035.7,1132.0 1036.3,1132.0 1036.9,1138.0 1037.5,1132.0 1038.1,1138.0 1038.7,1150.0 1039.3,1144.0 1039.9,1144.0 1040.5,1144.0 1041.1,1144.0 1041.7,1120.0 1042.3,1132.0 1042.9,1144.0 1043.5,1144.0 1044.1,1144.0 1044.7,1144.0 1045.3,1144.0 1045.9,1144.0 1046.5,1126.0 1047.1,1132.0 1047.7,1138.0 1048.3,1144.0 1048.9,1144.0 1049.5,1138.0 1050.1,1138.0 1050.7,1138.0 1051.3,1138.0 1051.9,1126.0 1052.5,1114.0 1053.1,1114.0 1053.7,1120.0 1054.3,1114.0 1054.9,1120.0 1055.5,1120.0 1056.1,1102.0 1056.7,1114.0 1057.3,1108.0 1057.9,1102.0 1058.5,1102.0 1059.1,1096.0 1059.7,1084.0 1060.3,1078.0 1060.9,1078.0 1061.5,1078.0 1062.1,1060.0 1062.7,1060.0 1063.3,1048.0 1063.9,1048.0 1064.5,1042.0 1065.1,1030.0 1065.7,1030.0 1066.3,1024.0 1066.9,1024.0 1067.5,1018.0 1068.1,1018.0 1068.7,1018.0 1069.3,1024.0 1069.9,1030.0 1070.5,1030.0 1071.1,1036.0 1071.7,1042.0 1072.3,1054.0 1072.9,1048.0 1073.5,1054.0 1074.1,1060.0 1074.7,1066.0 1075.3,1072.0 1075.9,1078.0 1076.5,1078.0 1077.1,1090.0 1077.7,1096.0 1078.3,1102.0 1078.9,1114.0 1079.5,1102.0 1080.1,1114.0 1080.7,1108.0 1081.3,1120.0 1081.9,1114.0 1082.5,1120.0 1083.1,1126.0 1083.7,1126.0 1084.3,1138.0 1084.9,1138.0 1085.5,1138.0 1086.1,1138.0 1086.7,1126.0 1087.3,1138.0 1087.9,1120.0 1088.5,1132.0 1089.1,1126.0 1089.7,1138.0 1090.3,1126.0 1090.9,1120.0 1091.5,1126.0 1092.1,1132.0 1092.7,1120.0 1093.3,1144.0 1093.9,1144.0 1094.5,1144.0 1095.1,1144.0 1095.7,1144.0 1096.3,1144.0 1096.9,1144.0 1097.5,1144.0 1098.1,1138.0 1098.7,1132.0 1099.3,1114.0 1099.9,1114.0 1100.5,1114.0 1101.1,1126.0 1101.7,1132.0 1102.3,1138.0 1102.9,1138.0 1103.5,1138.0 1104.1,1126.0 1104.7,1138.0 1105.3,1138.0 1105.9,1126.0 1106.5,1144.0 1107.1,1132.0 1107.7,1138.0 1108.3,1132.0 1108.9,1150.0 1109.5,1150.0 1110.1,1150.0 1110.7,1150.0 1111.3,1150.0 1111.9,1150.0 1112.5,1150.0 1113.1,1150.0 1113.7,1150.0 1114.3,1144.0 1114.9,1138.0 1115.5,1120.0 1116.1,1120.0 1116.7,1120.0 1117.3,1120.0 1117.9,1120.0 1118.5,1120.0 1119.1,1126.0 1119.7,1144.0 1120.3,1126.0 1120.9,1138.0 1121.5,1138.0 1122.1,1120.0 1122.7,1120.0 1123.3,1120.0 1123.9,1120.0 1124.5,1120.0 1125.1,1120.0 1125.7,1132.0 1126.3,1138.0 1126.9,1138.0 1127.5,1132.0 1128.1,1144.0 1128.7,1144.0 1129.3,1138.0 1129.9,1144.0 1130.5,1132.0 1131.1,1120.0 1131.7,1120.0 1132.3,1120.0 1132.9,1120.0 1133.5,1120.0 1134.1,1120.0 1134.7,1120.0 1135.3,1120.0 1135.9,1144.0 1136.5,1144.0 1137.1,1132.0 1137.7,1132.0 1138.3,1144.0 1138.9,1132.0 1139.5,1132.0 1140.1,1144.0 1140.7,1132.0 1141.3,1138.0 1141.9,1132.0 1142.5,1144.0 1143.1,1138.0 1143.7,1144.0 1144.3,1132.0 1144.9,1132.0 1145.5,1138.0 1146.1,1126.0 1146.7,1126.0 1147.3,1126.0 1147.9,1126.0 1148.5,1126.0 1149.1,1126.0 1149.7,1126.0 1150.3,1126.0 1150.9,1144.0 1151.5,1132.0 1152.1,1144.0 1152.7,1126.0 1153.3,1126.0 1153.9,1126.0 1154.5,1132.0 1155.1,1144.0 1155.7,1138.0 1156.3,1132.0 1156.9,1132.0 1157.5,1144.0 1158.1,1138.0 1158.7,1144.0 1159.3,1144.0 1159.9,1132.0 1160.5,1144.0 1161.1,1138.0 1161.7,1138.0 1162.3,1138.0 1162.9,1138.0 1163.5,1144.0 1164.1,1132.0 1164.7,1132.0 1165.3,1132.0 1165.9,1144.0 1166.5,1138.0 1167.1,1138.0 1167.7,1144.0 1168.3,1138.0 1168.9,1132.0 1169.5,1138.0 1170.1,1150.0 1170.7,1150.0 1171.3,1150.0 1171.9,1150.0 1172.5,1150.0 1173.1,1150.0 1173.7,1150.0 1174.3,1138.0 1174.9,1132.0 1175.5,1144.0 1176.1,1150.0 1176.7,1138.0 1177.3,1126.0 1177.9,1126.0 1178.5,1126.0 1179.1,1126.0 1179.7,1126.0 1180.3,1126.0 1180.9,1126.0 1181.5,1126.0 1182.1,1138.0 1182.7,1150.0 1183.3,1156.0 1183.9,1156.0 1184.5,1156.0 1185.1,1150.0 1185.7,1132.0 1186.3,1132.0 1186.9,1132.0 1187.5,1144.0 1188.1,1132.0 1188.7,1144.0 1189.3,1132.0 1189.9,1132.0 1190.5,1138.0 1191.1,1132.0 1191.7,1132.0 1192.3,1132.0 1192.9,1132.0 1193.5,1144.0 1194.1,1144.0 1194.7,1144.0 1195.3,1138.0 1195.9,1132.0 1196.5,1138.0 1197.1,1138.0 1197.7,1138.0 1198.3,1156.0 1198.9,1156.0 1199.5,1156.0 1200.1,1156.0 1200.7,1156.0 1201.3,1156.0 1201.9,1156.0 1202.5,1138.0 1203.1,1132.0 1203.7,1150.0 1204.3,1144.0 1204.9,1132.0 1205.5,1132.0 1206.1,1144.0 1206.7,1138.0 1207.3,1144.0 1207.9,1144.0 1208.5,1144.0 1209.1,1138.0 1209.7,1144.0 1210.3,1126.0 1210.9,1126.0 1211.5,1138.0 1212.1,1150.0 1212.7,1138.0 1213.3,1144.0 1213.9,1144.0 1214.5,1132.0 1215.1,1132.0 1215.7,1144.0 1216.3,1132.0 1216.9,1150.0 1217.5,1126.0 1218.1,1126.0 1218.7,1126.0 1219.3,1126.0 1219.9,1126.0 1220.5,1126.0 1221.1,1126.0 1221.7,1126.0 1222.3,1138.0 1222.9,1132.0 1223.5,1150.0 1224.1,1132.0 1224.7,1132.0 1225.3,1150.0 1225.9,1138.0 1226.5,1126.0 1227.1,1126.0 1227.7,1132.0 1228.3,1132.0 1228.9,1144.0 1229.5,1138.0 1230.1,1138.0 1230.7,1138.0 1231.3,1132.0 1231.9,1138.0 1232.5,1144.0 1233.1,1144.0 1233.7,1138.0 1234.3,1126.0 1234.9,1144.0 1235.5,1132.0 1236.1,1144.0 1236.7,1144.0 1237.3,1138.0 1237.9,1132.0 1238.5,1138.0 1239.1,1150.0 1239.7,1144.0 1240.3,1138.0 1240.9,1144.0 1241.5,1132.0 1242.1,1132.0 1242.7,1144.0 1243.3,1150.0 1243.9,1144.0 1244.5,1132.0 1245.1,1132.0 1245.7,1144.0 1246.3,1132.0 1246.9,1144.0 1247.5,1144.0 1248.1,1120.0 1248.7,1120.0 1249.3,1150.0 1249.9,1120.0 1250.5,1120.0 1251.1,1120.0 1251.7,1120.0 1252.3,1120.0 1252.9,1132.0 1253.5,1144.0 1254.1,1138.0 1254.7,1150.0 1255.3,1150.0 1255.9,1138.0 1256.5,1138.0 1257.1,1120.0 1257.7,1120.0 1258.3,1120.0 1258.9,1120.0 1259.5,1120.0 1260.1,1120.0 1260.7,1120.0 1261.3,1120.0 1261.9,1120.0 1262.5,1132.0 1263.1,1144.0 1263.7,1126.0 1264.3,1138.0 1264.9,1138.0 1265.5,1144.0 1266.1,1138.0 1266.7,1138.0 1267.3,1132.0 1267.9,1132.0 1268.5,1144.0 1269.1,1126.0 1269.7,1120.0 1270.3,1144.0 1270.9,1138.0 1271.5,1144.0 1272.1,1150.0 1272.7,1150.0 1273.3,1150.0 1273.9,1150.0 1274.5,1132.0 1275.1,1144.0 1275.7,1132.0 1276.3,1126.0 1276.9,1144.0 1277.5,1138.0 1278.1,1144.0 1278.7,1138.0 1279.3,1138.0 1279.9,1120.0 1280.5,1120.0 1281.1,1120.0 1281.7,1120.0 1282.3,1120.0 1282.9,1120.0 1283.5,1120.0 1284.1,1120.0 1284.7,1126.0 1285.3,1132.0 1285.9,1144.0 1286.5,1144.0 1287.1,1144.0 1287.7,1126.0 1288.3,1138.0 1288.9,1150.0 1289.5,1150.0 1290.1,1150.0 1290.7,1150.0 1291.3,1150.0 1291.9,1150.0 1292.5,1150.0 1293.1,1150.0 1293.7,1138.0 1294.3,1138.0 1294.9,1126.0 1295.5,1132.0 1296.1,1126.0 1296.7,1132.0 1297.3,1120.0 1297.9,1120.0 1298.5,1126.0 1299.1,1114.0 1299.7,1120.0 1300.3,1120.0 1300.9,1108.0 1301.5,1114.0 1302.1,1114.0 1302.7,1108.0 1303.3,1096.0 1303.9,1096.0 1304.5,1096.0 1305.1,1096.0 1305.7,1096.0 1306.3,1090.0 1306.9,1090.0 1307.5,1090.0 1308.1,1090.0 1308.7,1090.0 1309.3,1096.0 1309.9,1096.0 1310.5,1096.0 1311.1,1096.0 1311.7,1096.0 1312.3,1102.0 1312.9,1108.0 1313.5,1114.0 1314.1,1114.0 1314.7,1126.0 1315.3,1126.0 1315.9,1132.0 1316.5,1132.0 1317.1,1126.0 1317.7,1120.0 1318.3,1132.0 1318.9,1126.0 1319.5,1138.0 1320.1,1132.0 1320.7,1114.0 1321.3,1114.0 1321.9,1114.0 1322.5,1114.0 1323.1,1132.0 1323.7,1126.0 1324.3,1144.0 1324.9,1132.0 1325.5,1120.0 1326.1,1132.0 1326.7,1138.0 1327.3,1144.0 1327.9,1144.0 1328.5,1126.0 1329.1,1132.0 1329.7,1126.0 1330.3,1132.0 1330.9,1138.0 1331.5,1138.0 1332.1,1120.0 1332.7,1126.0 1333.3,1144.0 1333.9,1132.0 1334.5,1120.0 1335.1,1138.0 1335.7,1132.0 1336.3,1132.0 1336.9,1144.0 1337.5,1120.0 1338.1,1120.0 1338.7,1120.0 1339.3,1144.0 1339.9,1132.0 1340.5,1126.0 1341.1,1132.0 1341.7,1138.0 1342.3,1144.0 1342.9,1144.0 1343.5,1138.0 1344.1,1132.0 1344.7,1138.0 1345.3,1132.0 1345.9,1126.0 1346.5,1126.0 1347.1,1132.0 1347.7,1132.0 1348.3,1144.0 1348.9,1138.0 1349.5,1144.0 1350.1,1126.0 1350.7,1138.0 1351.3,1126.0 1351.9,1138.0 1352.5,1126.0 1353.1,1126.0 1353.7,1126.0 1354.3,1132.0 1354.9,1138.0 1355.5,1144.0 1356.1,1132.0 1356.7,1132.0 1357.3,1126.0 1357.9,1138.0 1358.5,1120.0 1359.1,1120.0 1359.7,1120.0 1360.3,1132.0 1360.9,1132.0 1361.5,1138.0 1362.1,1120.0 1362.7,1120.0 1363.3,1132.0 1363.9,1138.0 1364.5,1126.0 1365.1,1120.0 1365.7,1132.0 1366.3,1126.0 1366.9,1132.0 1367.5,1138.0 1368.1,1126.0 1368.7,1126.0 1369.3,1126.0 1369.9,1138.0 1370.5,1126.0 1371.1,1114.0 1371.7,1114.0 1372.3,1108.0 1372.9,1108.0 1373.5,1108.0 1374.1,1108.0 1374.7,1108.0 1375.3,1108.0 1375.9,1114.0 1376.5,1114.0 1377.1,1114.0 1377.7,1108.0 1378.3,1108.0 1378.9,1096.0 1379.5,1096.0 1380.1,1096.0 1380.7,1084.0 1381.3,1078.0 1381.9,1072.0 1382.5,1066.0 1383.1,1060.0 1383.7,1054.0 1384.3,1048.0 1384.9,1036.0 1385.5,1030.0 1386.1,1018.0 1386.7,1012.0 1387.3,1006.0 1387.9,994.0 1388.5,988.0 1389.1,982.0 1389.7,976.0 1390.3,976.0 1390.9,976.0 1391.5,982.0 1392.1,988.0 1392.7,994.0 1393.3,1000.0 1393.9,1012.0 1394.5,1024.0 1395.1,1030.0 1395.7,1036.0 1396.3,1048.0 1396.9,1054.0 1397.5,1072.0 1398.1,1072.0 1398.7,1084.0 1399.3,1090.0 1399.9,1084.0 1400.5,1084.0 1401.1,1090.0 1401.7,1090.0 1402.3,1114.0 1402.9,1102.0 1403.5,1114.0 1404.1,1120.0 1404.7,1126.0 1405.3,1108.0 1405.9,1114.0 1406.5,1114.0 1407.1,1120.0 1407.7,1126.0 1408.3,1132.0 1408.9,1132.0 1409.5,1120.0 1410.1,1132.0 1410.7,1132.0 1411.3,1138.0 1411.9,1126.0 1412.5,1132.0 1413.1,1126.0 1413.7,1138.0 1414.3,1132.0 1414.9,1132.0 1415.5,1126.0 1416.1,1138.0 1416.7,1138.0 1417.3,1120.0 1417.9,1120.0 1418.5,1126.0 1419.1,1138.0 1419.7,1144.0 1420.3,1132.0 1420.9,1138.0 1421.5,1138.0 1422.1,1144.0 1422.7,1144.0 1423.3,1144.0 1423.9,1144.0 1424.5,1144.0 1425.1,1144.0 1425.7,1144.0 1426.3,1144.0 1426.9,1138.0 1427.5,1144.0 1428.1,1144.0 1428.7,1132.0 1429.3,1132.0 1429.9,1138.0 1430.5,1144.0 1431.1,1132.0 1431.7,1144.0 1432.3,1144.0 1432.9,1132.0 1433.5,1144.0 1434.1,1144.0 1434.7,1144.0 1435.3,1144.0 1435.9,1132.0 1436.5,1144.0 1437.1,1138.0 1437.7,1132.0 1438.3,1126.0 1438.9,1138.0 1439.5,1138.0 1440.1,1138.0 1440.7,1132.0 1441.3,1138.0 1441.9,1144.0 1442.5,1138.0 1443.1,1132.0 1443.7,1132.0 1444.3,1138.0 1444.9,1150.0 1445.5,1150.0 1446.1,1150.0 1446.7,1150.0 1447.3,1150.0 1447.9,1150.0 1448.5,1132.0 1449.1,1132.0 1449.7,1132.0 1450.3,1132.0 1450.9,1132.0 1451.5,1138.0 1452.1,1144.0 1452.7,1144.0 1453.3,1144.0 1453.9,1150.0 1454.5,1150.0 1455.1,1150.0 1455.7,1150.0 1456.3,1138.0 1456.9,1144.0 1457.5,1144.0 1458.1,1138.0 1458.7,1138.0 1459.3,1144.0 1459.9,1144.0 1460.5,1132.0 1461.1,1144.0 1461.7,1144.0 1462.3,1138.0 1462.9,1144.0 1463.5,1144.0 1464.1,1126.0 1464.7,1144.0 1465.3,1132.0 1465.9,1126.0 1466.5,1132.0 1467.1,1144.0 1467.7,1150.0 1468.3,1150.0 1468.9,1150.0 1469.5,1144.0 1470.1,1144.0 1470.7,1144.0 1471.3,1144.0 1471.9,1144.0 1472.5,1126.0 1473.1,1132.0 1473.7,1132.0 1474.3,1126.0 1474.9,1132.0 1475.5,1138.0 1476.1,1138.0 1476.7,1138.0 1477.3,1126.0 1477.9,1144.0 1478.5,1144.0 1479.1,1144.0 1479.7,1144.0 1480.3,1144.0 1480.9,1144.0 1481.5,1138.0 1482.1,1132.0 1482.7,1138.0 1483.3,1132.0 1483.9,1138.0 1484.5,1114.0 1485.1,1114.0 1485.7,1114.0 1486.3,1114.0 1486.9,1114.0 1487.5,1114.0 1488.1,1132.0 1488.7,1138.0 1489.3,1126.0 1489.9,1120.0 1490.5,1120.0 1491.1,1132.0 1491.7,1120.0 1492.3,1120.0 1492.9,1120.0 1493.5,1138.0 1494.1,1138.0 1494.7,1138.0 1495.3,1138.0 1495.9,1132.0 1496.5,1132.0 1497.1,1114.0 1497.7,1126.0 1498.3,1114.0 1498.9,1108.0 1499.5,1114.0 1500.1,1114.0 1500.7,1114.0 1501.3,1114.0 1501.9,1114.0 1502.5,1108.0 1503.1,1108.0 1503.7,1102.0 1504.3,1102.0 1504.9,1096.0 1505.5,1084.0 1506.1,1084.0 1506.7,1084.0 1507.3,1078.0 1507.9,1072.0 1508.5,1054.0 1509.1,1054.0 1509.7,1042.0 1510.3,1030.0 1510.9,1018.0 1511.5,1012.0 1512.1,1000.0 1512.7,988.0 1513.3,976.0 1513.9,970.0 1514.5,958.0 1515.1,952.0 1515.7,946.0 1516.3,940.0 1516.9,940.0 1517.5,940.0 1518.1,946.0 1518.7,952.0 1519.3,958.0 1519.9,964.0 1520.5,976.0 1521.1,982.0 1521.7,994.0 1522.3,1006.0 1522.9,1012.0 1523.5,1024.0 1524.1,1030.0 1524.7,1042.0 1525.3,1060.0 1525.9,1060.0 1526.5,1072.0 1527.1,1078.0 1527.7,1084.0 1528.3,1096.0 1528.9,1090.0 1529.5,1102.0 1530.1,1096.0 1530.7,1108.0 1531.3,1120.0 1531.9,1120.0 1532.5,1120.0 1533.1,1120.0 1533.7,1108.0 1534.3,1120.0 1534.9,1120.0 1535.5,1114.0 1536.1,1126.0 1536.7,1114.0 1537.3,1126.0 1537.9,1120.0 1538.5,1126.0 1539.1,1120.0 1539.7,1132.0 1540.3,1126.0 1540.9,1132.0 1541.5,1126.0 1542.1,1132.0 1542.7,1126.0 1543.3,1132.0 1543.9,1138.0 1544.5,1120.0 1545.1,1132.0 1545.7,1126.0 1546.3,1138.0 1546.9,1138.0 1547.5,1132.0 1548.1,1132.0 1548.7,1138.0 1549.3,1144.0 1549.9,1144.0 1550.5,1144.0 1551.1,1126.0 1551.7,1132.0 1552.3,1132.0 1552.9,1132.0 1553.5,1132.0 1554.1,1138.0 1554.7,1138.0 1555.3,1132.0 1555.9,1132.0 1556.5,1138.0 1557.1,1138.0 1557.7,1132.0 1558.3,1144.0 1558.9,1132.0 1559.5,1144.0 1560.1,1138.0 1560.7,1144.0 1561.3,1132.0 1561.9,1132.0 1562.5,1138.0 1563.1,1138.0 1563.7,1138.0 1564.3,1126.0 1564.9,1126.0 1565.5,1126.0 1566.1,1126.0 1566.7,1126.0 1567.3,1126.0 1567.9,1126.0 1568.5,1126.0 1569.1,1138.0 1569.7,1138.0 1570.3,1138.0 1570.9,1126.0 1571.5,1126.0 1572.1,1126.0 1572.7,1126.0 1573.3,1126.0 1573.9,1126.0 1574.5,1132.0 1575.1,1132.0 1575.7,1132.0 1576.3,1132.0 1576.9,1138.0 1577.5,1138.0 1578.1,1144.0 1578.7,1150.0 1579.3,1150.0 1579.9,1150.0 1580.5,1150.0 1581.1,1150.0 1581.7,1150.0 1582.3,1150.0 1582.9,1132.0 1583.5,1138.0 1584.1,1150.0 1584.7,1150.0 1585.3,1150.0 1585.9,1150.0 1586.5,1156.0 1587.1,1156.0 1587.7,1156.0 1588.3,1144.0 1588.9,1132.0 1589.5,1138.0 1590.1,1138.0 1590.7,1132.0 1591.3,1144.0 1591.9,1144.0 1592.5,1138.0 1593.1,1150.0 1593.7,1150.0 1594.3,1138.0 1594.9,1132.0 1595.5,1138.0 1596.1,1138.0 1596.7,1138.0 1597.3,1144.0 1597.9,1144.0 1598.5,1150.0 1599.1,1150.0 1599.7,1150.0 1600.3,1150.0 1600.9,1126.0 1601.5,1132.0 1602.1,1132.0 1602.7,1138.0 1603.3,1132.0 1603.9,1120.0 1604.5,1144.0 1605.1,1126.0 1605.7,1144.0 1606.3,1144.0 1606.9,1132.0 1607.5,1150.0 1608.1,1132.0 1608.7,1132.0 1609.3,1132.0 1609.9,1138.0 1610.5,1144.0 1611.1,1144.0 1611.7,1132.0 1612.3,1132.0 1612.9,1132.0 1613.5,1150.0 1614.1,1150.0 1614.7,1144.0 1615.3,1132.0 1615.9,1132.0 1616.5,1138.0 1617.1,1144.0 1617.7,1126.0 1618.3,1126.0 1618.9,1126.0 1619.5,1126.0 1620.1,1126.0 1620.7,1138.0 1621.3,1138.0 1621.9,1132.0 1622.5,1132.0 1623.1,1132.0 1623.7,1138.0 1624.3,1138.0 1624.9,1144.0 1625.5,1138.0 1626.1,1132.0 1626.7,1144.0 1627.3,1132.0 1627.9,1132.0 1628.5,1126.0 1629.1,1126.0 1629.7,1138.0 1630.3,1138.0 1630.9,1132.0 1631.5,1132.0 1632.1,1144.0 1632.7,1138.0 1633.3,1138.0 1633.9,1138.0 1634.5,1144.0 1635.1,1150.0 1635.7,1138.0 1636.3,1132.0 1636.9,1132.0 1637.5,1132.0 1638.1,1150.0 1638.7,1138.0 1639.3,1132.0 1639.9,1132.0 1640.5,1144.0 1641.1,1138.0 1641.7,1144.0 1642.3,1150.0 1642.9,1138.0 1643.5,1144.0 1644.1,1132.0 1644.7,1132.0 1645.3,1150.0 1645.9,1144.0 1646.5,1126.0 1647.1,1126.0 1647.7,1126.0 1648.3,1138.0 1648.9,1132.0 1649.5,1138.0 1650.1,1138.0 1650.7,1138.0 1651.3,1138.0 1651.9,1132.0 1652.5,1138.0 1653.1,1132.0 1653.7,1132.0 1654.3,1132.0 1654.9,1132.0 1655.5,1144.0 1656.1,1132.0 1656.7,1132.0 1657.3,1150.0 1657.9,1150.0 1658.5,1150.0 1659.1,1150.0 1659.7,1150.0 1660.3,1150.0 1660.9,1144.0 1661.5,1132.0 1662.1,1144.0 1662.7,1144.0 1663.3,1132.0 1663.9,1144.0 1664.5,1144.0 1665.1,1144.0 1665.7,1150.0 1666.3,1150.0 1666.9,1150.0 1667.5,1150.0 1668.1,1132.0 1668.7,1138.0 1669.3,1138.0 1669.9,1138.0 1670.5,1144.0 1671.1,1144.0 1671.7,1132.0 1672.3,1144.0 1672.9,1144.0 1673.5,1132.0 1674.1,1144.0 1674.7,1138.0 1675.3,1126.0 1675.9,1126.0 1676.5,1126.0 1677.1,1126.0 1677.7,1132.0 1678.3,1132.0 1678.9,1144.0 1679.5,1132.0 1680.1,1144.0 1680.7,1138.0 1681.3,1144.0 1681.9,1132.0 1682.5,1132.0 1683.1,1132.0 1683.7,1138.0 1684.3,1132.0 1684.9,1150.0 1685.5,1150.0 1686.1,1150.0 1686.7,1150.0 1687.3,1138.0 1687.9,1138.0 1688.5,1138.0 1689.1,1126.0 1689.7,1132.0 1690.3,1138.0 1690.9,1138.0 1691.5,1144.0 1692.1,1126.0 1692.7,1126.0 1693.3,1126.0 1693.9,1126.0 1694.5,1126.0 1695.1,1144.0 1695.7,1132.0 1696.3,1144.0 1696.9,1126.0 1697.5,1126.0 1698.1,1132.0 1698.7,1138.0 1699.3,1138.0 1699.9,1126.0 1700.5,1126.0 1701.1,1138.0 1701.7,1132.0 1702.3,1126.0 1702.9,1120.0 1703.5,1126.0 1704.1,1126.0 1704.7,1120.0 1705.3,1120.0 1705.9,1120.0 1706.5,1114.0 1707.1,1126.0 1707.7,1120.0 1708.3,1120.0 1708.9,1120.0 1709.5,1114.0 1710.1,1120.0 1710.7,1114.0 1711.3,1114.0 1711.9,1114.0 1712.5,1114.0 1713.1,1114.0 1713.7,1114.0 1714.3,1114.0 1714.9,1114.0 1715.5,1108.0 1716.1,1114.0 1716.7,1114.0 1717.3,1114.0 1717.9,1114.0 1718.5,1114.0 1719.1,1114.0 1719.7,1120.0 1720.3,1114.0 1720.9,1114.0 1721.5,1114.0 1722.1,1114.0 1722.7,1114.0 1723.3,1120.0 1723.9,1120.0 1724.5,1120.0 1725.1,1120.0 1725.7,1120.0 1726.3,1132.0 1726.9,1132.0 1727.5,1132.0 1728.1,1132.0 1728.7,1138.0 1729.3,1138.0 1729.9,1138.0 1730.5,1138.0 1731.1,1132.0 1731.7,1132.0 1732.3,1138.0 1732.9,1126.0 1733.5,1144.0 1734.1,1144.0 1734.7,1120.0 1735.3,1120.0 1735.9,1126.0 1736.5,1126.0 1737.1,1126.0 1737.7,1126.0 1738.3,1126.0 1738.9,1144.0 1739.5,1138.0 1740.1,1132.0 1740.7,1126.0 1741.3,1138.0 1741.9,1144.0 1742.5,1132.0 1743.1,1132.0 1743.7,1144.0 1744.3,1138.0 1744.9,1132.0 1745.5,1126.0 1746.1,1132.0 1746.7,1126.0 1747.3,1144.0 1747.9,1138.0 1748.5,1132.0 1749.1,1138.0 1749.7,1138.0 1750.3,1132.0 1750.9,1144.0 1751.5,1132.0 1752.1,1144.0 1752.7,1144.0 1753.3,1132.0 1753.9,1126.0 1754.5,1138.0 1755.1,1132.0 1755.7,1138.0 1756.3,1144.0 1756.9,1126.0 1757.5,1144.0 1758.1,1132.0 1758.7,1126.0 1759.3,1126.0 1759.9,1132.0 1760.5,1132.0 1761.1,1150.0 1761.7,1144.0 1762.3,1144.0 1762.9,1144.0 1763.5,1132.0 1764.1,1126.0 1764.7,1126.0 1765.3,1120.0 1765.9,1120.0 1766.5,1120.0 1767.1,1120.0 1767.7,1120.0 1768.3,1114.0 1768.9,1114.0 1769.5,1114.0 1770.1,1114.0 1770.7,1120.0 1771.3,1114.0 1771.9,1120.0 1772.5,1126.0 1773.1,1114.0 1773.7,1114.0 1774.3,1114.0 1774.9,1108.0 1775.5,1120.0 1776.1,1120.0 1776.7,1114.0 1777.3,1114.0 1777.9,1102.0 1778.5,1102.0 1779.1,1102.0 1779.7,1102.0 1780.3,1102.0 1780.9,1102.0 1781.5,1102.0 1782.1,1096.0 1782.7,1096.0 1783.3,1096.0 1783.9,1096.0 1784.5,1096.0 1785.1,1096.0 1785.7,1096.0 1786.3,1096.0 1786.9,1102.0 1787.5,1102.0 1788.1,1102.0 1788.7,1102.0 1789.3,1102.0 1789.9,1102.0 1790.5,1102.0 1791.1,1102.0 1791.7,1108.0 1792.3,1108.0 1792.9,1108.0 1793.5,1114.0 1794.1,1120.0 1794.7,1120.0 1795.3,1120.0 1795.9,1126.0 1796.5,1120.0 1797.1,1132.0 1797.7,1132.0 1798.3,1132.0 1798.9,1138.0 1799.5,1138.0 1800.1,1138.0 1800.7,1132.0 1801.3,1126.0 1801.9,1138.0 1802.5,1132.0 1803.1,1138.0 1803.7,1126.0 1804.3,1126.0 1804.9,1126.0 1805.5,1126.0 1806.1,1144.0 1806.7,1144.0 1807.3,1144.0 1807.9,1144.0 1808.5,1144.0 1809.1,1150.0 1809.7,1144.0 1810.3,1144.0 1810.9,1132.0 1811.5,1138.0 1812.1,1132.0 1812.7,1138.0 1813.3,1132.0 1813.9,1138.0 1814.5,1138.0 1815.1,1138.0 1815.7,1126.0 1816.3,1126.0 1816.9,1144.0 1817.5,1126.0 1818.1,1138.0 1818.7,1132.0 1819.3,1132.0 1819.9,1126.0 1820.5,1120.0 1821.1,1132.0 1821.7,1144.0 1822.3,1144.0 1822.9,1144.0 1823.5,1144.0 1824.1,1138.0 1824.7,1144.0 1825.3,1132.0 1825.9,1132.0 1826.5,1138.0 1827.1,1138.0 1827.7,1138.0 1828.3,1144.0 1828.9,1144.0 1829.5,1132.0 1830.1,1126.0 1830.7,1126.0 1831.3,1126.0 1831.9,1126.0 1832.5,1150.0 1833.1,1138.0 1833.7,1144.0 1834.3,1144.0 1834.9,1138.0 1835.5,1138.0 1836.1,1132.0 1836.7,1132.0 1837.3,1144.0 1837.9,1144.0 1838.5,1144.0 1839.1,1150.0 1839.7,1132.0 1840.3,1132.0 1840.9,1144.0 1841.5,1144.0 1842.1,1138.0 1842.7,1144.0 1843.3,1144.0 1843.9,1150.0 1844.5,1144.0 1845.1,1150.0 1845.7,1144.0 1846.3,1138.0 1846.9,1138.0 1847.5,1144.0 1848.1,1144.0 1848.7,1132.0 1849.3,1150.0 1849.9,1138.0 1850.5,1144.0 1851.1,1132.0 1851.7,1132.0 1852.3,1138.0 1852.9,1150.0 1853.5,1138.0 1854.1,1132.0 1854.7,1144.0 1855.3,1150.0 1855.9,1144.0 1856.5,1138.0 1857.1,1138.0 1857.7,1132.0 1858.3,1132.0 1858.9,1132.0 1859.5,1132.0 1860.1,1132.0 1860.7,1132.0 1861.3,1150.0 1861.9,1150.0 1862.5,1144.0 1863.1,1150.0 1863.7,1144.0 1864.3,1138.0 1864.9,1150.0 1865.5,1150.0 1866.1,1150.0 1866.7,1150.0 1867.3,1150.0 1867.9,1150.0 1868.5,1150.0 1869.1,1150.0 1869.7,1138.0 1870.3,1138.0 1870.9,1132.0 1871.5,1132.0 1872.1,1132.0 1872.7,1132.0 1873.3,1138.0 1873.9,1144.0 1874.5,1144.0 1875.1,1138.0 1875.7,1144.0 1876.3,1138.0 1876.9,1150.0 1877.5,1150.0 1878.1,1132.0 1878.7,1144.0 1879.3,1138.0 1879.9,1138.0 1880.5,1138.0 1881.1,1144.0 1881.7,1150.0 1882.3,1150.0 1882.9,1144.0 1883.5,1138.0 1884.1,1144.0 1884.7,1150.0 1885.3,1144.0 1885.9,1150.0 1886.5,1132.0 1887.1,1138.0 1887.7,1132.0 1888.3,1132.0 1888.9,1138.0 1889.5,1144.0 1890.1,1138.0 1890.7,1138.0 1891.3,1126.0 1891.9,1126.0 1892.5,1144.0 1893.1,1132.0 1893.7,1126.0 1894.3,1126.0 1894.9,1126.0 1895.5,1138.0 1896.1,1150.0 1896.7,1150.0 1897.3,1144.0 1897.9,1144.0 1898.5,1150.0 1899.1,1150.0 1899.7,1150.0 1900.3,1126.0 1900.9,1126.0 1901.5,1126.0 1902.1,1138.0 1902.7,1138.0 1903.3,1144.0 1903.9,1144.0 1904.5,1132.0 1905.1,1138.0 1905.7,1138.0 1906.3,1144.0 1906.9,1132.0 1907.5,1150.0 1908.1,1150.0 1908.7,1150.0 1909.3,1150.0 1909.9,1150.0 1910.5,1150.0 1911.1,1138.0 1911.7,1144.0 1912.3,1132.0 1912.9,1132.0 1913.5,1144.0 1914.1,1144.0 1914.7,1150.0 1915.3,1132.0 1915.9,1132.0 1916.5,1144.0 1917.1,1126.0 1917.7,1132.0 1918.3,1138.0 1918.9,1132.0 1919.5,1132.0 1920.1,1144.0"/>
<polyline stroke="#00f" points="185.5,1320.0 186.1,1302.0 186.7,1320.0 187.3,1320.0 187.9,1320.0 188.5,1296.0 189.1,1302.0 189.7,1290.0 190.3,1308.0 190.9,1284.0 191.5,1308.0 192.1,1290.0 192.7,1308.0 193.3,1296.0 193.9,1284.0 194.5,1302.0 195.1,1302.0 195.7,1308.0 196.3,1290.0 196.9,1308.0 197.5,1302.0 198.1,1272.0 198.7,1272.0 199.3,1272.0 199.9,1272.0 200.5,1320.0 201.1,1320.0 201.7,1284.0 202.3,1296.0 202.9,1302.0 203.5,1314.0 204.1,1308.0 204.7,1314.0 205.3,1290.0 205.9,1302.0 206.5,1296.0 207.1,1320.0 207.7,1320.0 208.3,1302.0 208.9,1326.0 209.5,1296.0 210.1,1290.0 210.7,1308.0 211.3,1320.0 211.9,1332.0 212.5,1314.0 213.1,1302.0 213.7,1320.0 214.3,1296.0 214.9,1326.0 215.5,1308.0 216.1,1290.0 216.7,1290.0 217.3,1296.0 217.9,1296.0 218.5,1296.0 219.1,1338.0 219.7,1332.0 220.3,1314.0 220.9,1302.0 221.5,1302.0 222.1,1314.0 222.7,1308.0 223.3,1308.0 223.9,1314.0 224.5,1290.0 225.1,1290.0 225.7,1290.0 226.3,1320.0 226.9,1332.0 227.5,1320.0 228.1,1338.0 228.7,1314.0 229.3,1314.0 229.9,1326.0 230.5,1320.0 231.1,1314.0 231.7,1314.0 232.3,1308.0 232.9,1326.0 233.5,1338.0 234.1,1338.0 234.7,1320.0 235.3,1338.0 235.9,1338.0 236.5,1314.0 237.1,1308.0 237.7,1332.0 238.3,1338.0 238.9,1326.0 239.5,1302.0 240.1,1302.0 240.7,1302.0 241.3,1308.0 241.9,1308.0 242.5,1302.0 243.1,1314.0 243.7,1314.0 244.3,1314.0 244.9,1302.0 245.5,1302.0 246.1,1302.0 246.7,1302.0 247.3,1302.0 247.9,1302.0 248.5,1332.0 249.1,1326.0 249.7,1314.0 250.3,1314.0 250.9,1332.0 251.5,1320.0 252.1,1326.0 252.7,1332.0 253.3,1332.0 253.9,1320.0 254.5,1320.0 255.1,1314.0 255.7,1332.0 256.3,1338.0 256.9,1314.0 257.5,1320.0 258.1,1320.0 258.7,1332.0 259.3,1326.0 259.9,1344.0 260.5,1320.0 261.1,1338.0 261.7,1338.0 262.3,1350.0 262.9,1338.0 263.5,1344.0 264.1,1332.0 264.7,1350.0 265.3,1356.0 265.9,1356.0 266.5,1356.0 267.1,1356.0 267.7,1314.0 268.3,1338.0 268.9,1326.0 269.5,1344.0 270.1,1314.0 270.7,1326.0 271.3,1338.0 271.9,1314.0 272.5,1314.0 273.1,1314.0 273.7,1314.0 274.3,1326.0 274.9,1350.0 275.5,1344.0 276.1,1308.0 276.7,1308.0 277.3,1308.0 277.9,1308.0 278.5,1308.0 279.1,1308.0 279.7,1314.0 280.3,1308.0 280.9,1308.0 281.5,1338.0 282.1,1350.0 282.7,1320.0 283.3,1350.0 283.9,1350.0 284.5,1326.0 285.1,1344.0 285.7,1314.0 286.3,1314.0 286.9,1332.0 287.5,1344.0 288.1,1344.0 288.7,1320.0 289.3,1350.0 289.9,1326.0 290.5,1326.0 291.1,1338.0 291.7,1332.0 292.3,1344.0 292.9,1326.0 293.5,1338.0 294.1,1344.0 294.7,1350.0 295.3,1338.0 295.9,1332.0 296.5,1344.0 297.1,1344.0 297.7,1350.0 298.3,1344.0 298.9,1338.0 299.5,1332.0 300.1,1344.0 300.7,1344.0 301.3,1326.0 301.9,1338.0 302.5,1332.0 303.1,1344.0 303.7,1362.0 304.3,1362.0 304.9,1362.0 305.5,1362.0 306.1,1362.0 306.7,1362.0 307.3,1362.0 307.9,1362.0 308.5,1350.0 309.1,1356.0 309.7,1356.0 310.3,1356.0 310.9,1344.0 311.5,1350.0 312.1,1350.0 312.7,1344.0 313.3,1344.0 313.9,1356.0 314.5,1338.0 315.1,1338.0 315.7,1344.0 316.3,1344.0 316.9,1332.0 317.5,1344.0 318.1,1332.0 318.7,1338.0 319.3,1344.0 319.9,1344.0 320.5,1344.0 321.1,1344.0 321.7,1332.0 322.3,1338.0 322.9,1350.0 323.5,1344.0 324.1,1350.0 324.7,1344.0 325.3,1344.0 325.9,1350.0 326.5,1356.0 327.1,1332.0 327.7,1338.0 328.3,1332.0 328.9,1338.0 329.5,1332.0 330.1,1356.0 330.7,1332.0 331.3,1332.0 331.9,1332.0 332.5,1332.0 333.1,1338.0 333.7,1338.0 334.3,1344.0 334.9,1338.0 335.5,1344.0 336.1,1332.0 336.7,1332.0 337.3,1356.0 337.9,1356.0 338.5,1350.0 339.1,1338.0 339.7,1356.0 340.3,1344.0 340.9,1344.0 341.5,1338.0 342.1,1356.0 342.7,1350.0 343.3,1332.0 343.9,1332.0 344.5,1332.0 345.1,1332.0 345.7,1332.0 346.3,1332.0 346.9,1332.0 347.5,1356.0 348.1,1356.0 348.7,1338.0 349.3,1356.0 349.9,1332.0 350.5,1332.0 351.1,1332.0 351.7,1332.0 352.3,1332.0 352.9,1350.0 353.5,1338.0 354.1,1356.0 354.7,1344.0 355.3,1344.0 355.9,1344.0 356.5,1338.0 357.1,1368.0 357.7,1368.0 358.3,1356.0 358.9,1338.0 359.5,1338.0 360.1,1332.0 360.7,1344.0 361.3,1344.0 361.9,1356.0 362.5,1344.0 363.1,1362.0 363.7,1344.0 364.3,1362.0 364.9,1344.0 365.5,1338.0 366.1,1356.0 366.7,1344.0 367.3,1356.0 367.9,1356.0 368.5,1344.0 369.1,1332.0 369.7,1332.0 370.3,1332.0 370.9,1332.0 371.5,1332.0 372.1,1332.0 372.7,1356.0 373.3,1338.0 373.9,1356.0 374.5,1356.0 375.1,1344.0 375.7,1350.0 376.3,1350.0 376.9,1350.0 377.5,1338.0 378.1,1338.0 378.7,1344.0 379.3,1338.0 379.9,1344.0 380.5,1350.0 381.1,1350.0 381.7,1356.0 382.3,1344.0 382.9,1344.0 383.5,1338.0 384.1,1356.0 384.7,1350.0 385.3,1332.0 385.9,1332.0 386.5,1332.0 387.1,1332.0 387.7,1332.0 388.3,1332.0 388.9,1332.0 389.5,1332.0 390.1,1350.0 390.7,1368.0 391.3,1368.0 391.9,1368.0 392.5,1368.0 393.1,1368.0 393.7,1368.0 394.3,1368.0 394.9,1368.0 395.5,1350.0 396.1,1350.0 396.7,1350.0 397.3,1344.0 397.9,1332.0 398.5,1332.0 399.1,1332.0 399.7,1332.0 400.3,1332.0 400.9,1332.0 401.5,1362.0 402.1,1350.0 402.7,1344.0 403.3,1350.0 403.9,1350.0 404.5,1344.0 405.1,1356.0 405.7,1344.0 406.3,1350.0 406.9,1362.0 407.5,1362.0 408.1,1350.0 408.7,1356.0 409.3,1356.0 409.9,1350.0 410.5,1350.0 411.1,1356.0 411.7,1338.0 412.3,1338.0 412.9,1344.0 413.5,1344.0 414.1,1362.0 414.7,1362.0 415.3,1356.0 415.9,1350.0 416.5,1344.0 417.1,1356.0 417.7,1356.0 418.3,1338.0 418.9,1356.0 419.5,1350.0 420.1,1344.0 420.7,1344.0 421.3,1356.0 421.9,1344.0 422.5,1350.0 423.1,1362.0 423.7,1362.0 424.3,1362.0 424.9,1362.0 425.5,1350.0 426.1,1350.0 426.7,1350.0 427.3,1344.0 427.9,1356.0 428.5,1350.0 429.1,1362.0 429.7,1350.0 430.3,1344.0 430.9,1350.0 431.5,1350.0 432.1,1362.0 432.7,1344.0 433.3,1356.0 433.9,1338.0 434.5,1338.0 435.1,1332.0 435.7,1338.0 436.3,1332.0 436.9,1332.0 437.5,1332.0 438.1,1332.0 438.7,1332.0 439.3,1356.0 439.9,1344.0 440.5,1356.0 441.1,1356.0 441.7,1344.0 442.3,1338.0 442.9,1344.0 443.5,1344.0 444.1,1338.0 444.7,1344.0 445.3,1350.0 445.9,1344.0 446.5,1356.0 447.1,1356.0 447.7,1362.0 448.3,1362.0 448.9,1344.0 449.5,1350.0 450.1,1338.0 450.7,1332.0 451.3,1338.0 451.9,1362.0 452.5,1362.0 453.1,1362.0 453.7,1362.0 454.3,1362.0 454.9,1362.0 455.5,1362.0 456.1,1362.0 456.7,1338.0 457.3,1344.0 457.9,1362.0 458.5,1362.0 459.1,1362.0 459.7,1362.0 460.3,1362.0 460.9,1362.0 461.5,1362.0 462.1,1350.0 462.7,1338.0 463.3,1350.0 463.9,1344.0 464.5,1350.0 465.1,1344.0 465.7,1350.0 466.3,1338.0 466.9,1350.0 467.5,1356.0 468.1,1332.0 468.7,1356.0 469.3,1350.0 469.9,1356.0 470.5,1338.0 471.1,1344.0 471.7,1350.0 472.3,1344.0 472.9,1344.0 473.5,1350.0 474.1,1338.0 474.7,1350.0 475.3,1344.0 475.9,1356.0 476.5,1356.0 477.1,1344.0 477.7,1338.0 478.3,1350.0 478.9,1356.0 479.5,1350.0 480.1,1350.0 480.7,1356.0 481.3,1344.0 481.9,1338.0 482.5,1332.0 483.1,1338.0 483.7,1338.0 484.3,1344.0 484.9,1344.0 485.5,1350.0 486.1,1320.0 486.7,1320.0 487.3,1320.0 487.9,1314.0 488.5,1314.0 489.1,1308.0 489.7,1308.0 490.3,1302.0 490.9,1302.0 491.5,1308.0 492.1,1308.0 492.7,1314.0 493.3,1326.0 493.9,1332.0 494.5,1332.0 495.1,1338.0 495.7,1332.0 496.3,1338.0 496.9,1338.0 497.5,1344.0 498.1,1350.0 498.7,1350.0 499.3,1332.0 499.9,1332.0 500.5,1350.0 501.1,1356.0 501.7,1344.0 502.3,1350.0 502.9,1338.0 503.5,1338.0 504.1,1356.0 504.7,1356.0 505.3,1356.0 505.9,1356.0 506.5,1356.0 507.1,1356.0 507.7,1356.0 508.3,1356.0 508.9,1356.0 509.5,1356.0 510.1,1350.0 510.7,1356.0 511.3,1332.0 511.9,1338.0 512.5,1320.0 513.1,1320.0 513.7,1320.0 514.3,1320.0 514.9,1332.0 515.5,1338.0 516.1,1332.0 516.7,1320.0 517.3,1320.0 517.9,1320.0 518.5,1320.0 519.1,1320.0 519.7,1320.0 520.3,1350.0 520.9,1332.0 521.5,1344.0 522.1,1332.0 522.7,1332.0 523.3,1344.0 523.9,1350.0 524.5,1332.0 525.1,1332.0 525.7,1344.0 526.3,1356.0 526.9,1338.0 527.5,1350.0 528.1,1344.0 528.7,1344.0 529.3,1350.0 529.9,1338.0 530.5,1344.0 531.1,1332.0 531.7,1344.0 532.3,1356.0 532.9,1332.0 533.5,1332.0 534.1,1344.0 534.7,1356.0 535.3,1344.0 535.9,1356.0 536.5,1338.0 537.1,1356.0 537.7,1338.0 538.3,1350.0 538.9,1338.0 539.5,1350.0 540.1,1312.0 540.7,1338.0 541.3,1356.0 541.9,1350.0 542.5,1344.0 543.1,1338.0 543.7,1356.0 544.3,1338.0 544.9,1338.0 545.5,1332.0 546.1,1362.0 546.7,1362.0 547.3,1362.0 547.9,1350.0 548.5,1350.0 549.1,1320.0 549.7,1320.0 550.3,1320.0 550.9,1320.0 551.5,1320.0 552.1,1320.0 552.7,1320.0 553.3,1350.0 553.9,1344.0 554.5,1350.0 555.1,1344.0 555.7,1320.0 556.3,1320.0 556.9,1320.0 557.5,1320.0 558.1,1320.0 558.7,1320.0 559.3,1320.0 559.9,1338.0 560.5,1356.0 561.1,1350.0 561.7,1332.0 562.3,1326.0 562.9,1338.0 563.5,1344.0 564.1,1350.0 564.7,1332.0 565.3,1326.0 565.9,1326.0 566.5,1326.0 567.1,1344.0 567.7,1338.0 568.3,1338.0 568.9,1350.0 569.5,1332.0 570.1,1344.0 570.7,1350.0 571.3,1338.0 571.9,1326.0 572.5,1326.0 573.1,1306.0 573.7,1350.0 574.3,1344.0 574.9,1326.0 575.5,1332.0 576.1,1350.0 576.7,1344.0 577.3,1320.0 577.9,1320.0 578.5,1320.0 579.1,1320.0 579.7,1320.0 580.3,1320.0 580.9,1350.0 581.5,1350.0 582.1,1344.0 582.7,1326.0 583.3,1332.0 583.9,1326.0 584.5,1344.0 585.1,1356.0 585.7,1356.0 586.3,1356.0 586.9,1356.0 587.5,1356.0 588.1,1332.0 588.7,1350.0 589.3,1338.0 589.9,1332.0 590.5,1338.0 591.1,1338.0 591.7,1332.0 592.3,1320.0 592.9,1344.0 593.5,1338.0 594.1,1326.0 594.7,1338.0 595.3,1326.0 595.9,1332.0 596.5,1344.0 597.1,1338.0 597.7,1320.0 598.3,1320.0 598.9,1320.0 599.5,1320.0 600.1,1332.0 600.7,1344.0 601.3,1338.0 601.9,1320.0 602.5,1320.0 603.1,1320.0 603.7,1320.0 604.3,1320.0 604.9,1320.0 605.5,1320.0 606.1,1320.0 606.7,1320.0 607.3,1314.0 607.9,1314.0 608.5,1314.0 609.1,1344.0 609.7,1356.0 610.3,1356.0 610.9,1356.0 611.5,1356.0 612.1,1350.0 612.7,1344.0 613.3,1326.0 613.9,1338.0 614.5,1332.0 615.1,1338.0 615.7,1332.0 616.3,1350.0 616.9,1332.0 617.5,1314.0 618.1,1314.0 618.7,1350.0 619.3,1344.0 619.9,1350.0 620.5,1326.0 621.1,1332.0 621.7,1314.0 622.3,1314.0 622.9,1314.0 623.5,1314.0 624.1,1314.0 624.7,1344.0 625.3,1344.0 625.9,1350.0 626.5,1356.0 627.1,1356.0 627.7,1356.0 628.3,1344.0 628.9,1332.0 629.5,1350.0 630.1,1338.0 630.7,1338.0 631.3,1350.0 631.9,1332.0 632.5,1332.0 633.1,1326.0 633.7,1350.0 634.3,1338.0 634.9,1332.0 635.5,1344.0 636.1,1350.0 636.7,1326.0 637.3,1326.0 637.9,1350.0 638.5,1350.0 639.1,1338.0 639.7,1344.0 640.3,1326.0 640.9,1338.0 641.5,1326.0 642.1,1326.0 642.7,1326.0 643.3,1338.0 643.9,1338.0 644.5,1332.0 645.1,1344.0 645.7,1320.0 646.3,1326.0 646.9,1326.0 647.5,1338.0 648.1,1344.0 648.7,1326.0 649.3,1344.0 649.9,1332.0 650.5,1326.0 651.1,1326.0 651.7,1344.0 652.3,1356.0 652.9,1356.0 653.5,1356.0 654.1,1356.0 654.7,1356.0 655.3,1356.0 655.9,1356.0 656.5,1356.0 657.1,1338.0 657.7,1350.0 658.3,1350.0 658.9,1338.0 659.5,1350.0 660.1,1332.0 660.7,1332.0 661.3,1350.0 661.9,1332.0 662.5,1332.0 663.1,1338.0 663.7,1338.0 664.3,1350.0 664.9,1350.0 665.5,1344.0 666.1,1350.0 666.7,1332.0 667.3,1332.0 667.9,1332.0 668.5,1338.0 669.1,1320.0 669.7,1326.0 670.3,1332.0 670.9,1326.0 671.5,1332.0 672.1,1326.0 672.7,1332.0 673.3,1338.0 673.9,1338.0 674.5,1344.0 675.1,1332.0 675.7,1332.0 676.3,1350.0 676.9,1320.0 677.5,1338.0 678.1,1326.0 678.7,1320.0 679.3,1350.0 679.9,1309.0 680.5,1338.0 681.1,1350.0 681.7,1356.0 682.3,1344.0 682.9,1338.0 683.5,1320.0 684.1,1356.0 684.7,1350.0 685.3,1326.0 685.9,1338.0 686.5,1314.0 687.1,1314.0 687.7,1314.0 688.3,1314.0 688.9,1314.0 689.5,1320.0 690.1,1326.0 690.7,1320.0 691.3,1326.0 691.9,1338.0 692.5,1326.0 693.1,1344.0 693.7,1350.0 694.3,1326.0 694.9,1320.0 695.5,1344.0 696.1,1314.0 696.7,1314.0 697.3,1314.0 697.9,1314.0 698.5,1314.0 699.1,1314.0 699.7,1332.0 700.3,1350.0 700.9,1350.0 701.5,1350.0 702.1,1332.0 702.7,1308.0 703.3,1308.0 703.9,1308.0 704.5,1308.0 705.1,1308.0 705.7,1308.0 706.3,1356.0 706.9,1338.0 707.5,1344.0 708.1,1356.0 708.7,1350.0 709.3,1350.0 709.9,1350.0 710.5,1320.0 711.1,1356.0 711.7,1356.0 712.3,1356.0 712.9,1362.0 713.5,1362.0 714.1,1362.0 714.7,1356.0 715.3,1356.0 715.9,1332.0 716.5,1344.0 717.1,1356.0 717.7,1314.0 718.3,1314.0 718.9,1350.0 719.5,1320.0 720.1,1338.0 720.7,1350.0 721.3,1344.0 721.9,1332.0 722.5,1332.0 723.1,1320.0 723.7,1338.0 724.3,1350.0 724.9,1350.0 725.5,1350.0 726.1,1338.0 726.7,1362.0 727.3,1362.0 727.9,1362.0 728.5,1362.0 729.1,1362.0 729.7,1362.0 730.3,1362.0 730.9,1362.0 731.5,1350.0 732.1,1338.0 732.7,1350.0 733.3,1356.0 733.9,1326.0 734.5,1338.0 735.1,1326.0 735.7,1326.0 736.3,1344.0 736.9,1320.0 737.5,1344.0 738.1,1350.0 738.7,1338.0 739.3,1314.0 739.9,1314.0 740.5,1314.0 741.1,1314.0 741.7,1314.0 742.3,1314.0 742.9,1314.0 743.5,1314.0 744.1,1320.0 744.7,1350.0 745.3,1332.0 745.9,1344.0 746.5,1338.0 747.1,1326.0 747.7,1338.0 748.3,1350.0 748.9,1344.0 749.5,1326.0 750.1,1338.0 750.7,1350.0 751.3,1320.0 751.9,1320.0 752.5,1344.0 753.1,1338.0 753.7,1344.0 754.3,1332.0 754.9,1338.0 755.5,1320.0 756.1,1320.0 756.7,1332.0 757.3,1344.0 757.9,1332.0 758.5,1314.0 759.1,1314.0 759.7,1308.0 760.3,1308.0 760.9,1308.0 761.5,1302.0 762.1,1296.0 762.7,1296.0 763.3,1290.0 763.9,1284.0 764.5,1278.0 765.1,1272.0 765.7,1272.0 766.3,1260.0 766.9,1254.0 767.5,1254.0 768.1,1254.0 768.7,1254.0 769.3,1254.0 769.9,1260.0 770.5,1260.0 771.1,1266.0 771.7,1266.0 772.3,1272.0 772.9,1272.0 773.5,1272.0 774.1,1272.0 774.7,1272.0 775.3,1272.0 775.9,1272.0 776.5,1272.0 777.1,1278.0 777.7,1278.0 778.3,1284.0 778.9,1296.0 779.5,1296.0 780.1,1308.0 780.7,1308.0 781.3,1326.0 781.9,1314.0 782.5,1320.0 783.1,1332.0 783.7,1326.0 784.3,1338.0 784.9,1350.0 785.5,1332.0 786.1,1338.0 786.7,1326.0 787.3,1344.0 787.9,1332.0 788.5,1344.0 789.1,1320.0 789.7,1320.0 790.3,1320.0 790.9,1320.0 791.5,1326.0 792.1,1326.0 792.7,1326.0 793.3,1332.0 793.9,1344.0 794.5,1350.0 795.1,1356.0 795.7,1356.0 796.3,1350.0 796.9,1338.0 797.5,1344.0 798.1,1338.0 798.7,1326.0 799.3,1326.0 799.9,1344.0 800.5,1332.0 801.1,1332.0 801.7,1350.0 802.3,1344.0 802.9,1338.0 803.5,1362.0 804.1,1332.0 804.7,1356.0 805.3,1356.0 805.9,1332.0 806.5,1356.0 807.1,1350.0 807.7,1362.0 808.3,1350.0 808.9,1356.0 809.5,1332.0 810.1,1338.0 810.7,1338.0 811.3,1356.0 811.9,1338.0 812.5,1332.0 813.1,1332.0 813.7,1356.0 814.3,1332.0 814.9,1356.0 815.5,1332.0 816.1,1344.0 816.7,1332.0 817.3,1332.0 817.9,1338.0 818.5,1362.0 819.1,1362.0 819.7,1362.0 820.3,1356.0 820.9,1350.0 821.5,1332.0 822.1,1338.0 822.7,1350.0 823.3,1338.0 823.9,1332.0 824.5,1332.0 825.1,1338.0 825.7,1350.0 826.3,1344.0 826.9,1338.0 827.5,1332.0 828.1,1338.0 828.7,1356.0 829.3,1332.0 829.9,1332.0 830.5,1332.0 831.1,1344.0 831.7,1332.0 832.3,1338.0 832.9,1326.0 833.5,1326.0 834.1,1326.0 834.7,1326.0 835.3,1326.0 835.9,1326.0 836.5,1326.0 837.1,1338.0 837.7,1332.0 838.3,1332.0 838.9,1356.0 839.5,1350.0 840.1,1350.0 840.7,1332.0 841.3,1356.0 841.9,1332.0 842.5,1350.0 843.1,1350.0 843.7,1338.0 844.3,1332.0 844.9,1356.0 845.5,1326.0 846.1,1332.0 846.7,1344.0 847.3,1344.0 847.9,1332.0 848.5,1332.0 849.1,1338.0 849.7,1356.0 850.3,1356.0 850.9,1332.0 851.5,1350.0 852.1,1338.0 852.7,1332.0 853.3,1338.0 853.9,1326.0 854.5,1350.0 855.1,1314.0 855.7,1314.0 856.3,1314.0 856.9,1314.0 857.5,1314.0 858.1,1326.0 858.7,1356.0 859.3,1338.0 859.9,1332.0 860.5,1344.0 861.1,1344.0 861.7,1332.0 862.3,1338.0 862.9,1332.0 863.5,1338.0 864.1,1326.0 864.7,1332.0 865.3,1344.0 865.9,1344.0 866.5,1344.0 867.1,1350.0 867.7,1356.0 868.3,1356.0 868.9,1356.0 869.5,1356.0 870.1,1356.0 870.7,1356.0 871.3,1350.0 871.9,1350.0 872.5,1320.0 873.1,1344.0 873.7,1314.0 874.3,1308.0 874.9,1308.0 875.5,1308.0 876.1,1308.0 876.7,1302.0 877.3,1320.0 877.9,1320.0 878.5,1308.0 879.1,1320.0 879.7,1314.0 880.3,1290.0 880.9,1302.0 881.5,1296.0 882.1,1302.0 882.7,1296.0 883.3,1290.0 883.9,1278.0 884.5,1260.0 885.1,1248.0 885.7,1230.0 886.3,1230.0 886.9,1218.0 887.5,1206.0 888.1,1194.0 888.7,1176.0 889.3,1170.0 889.9,1152.0 890.5,1152.0 891.1,1146.0 891.7,1140.0 892.3,1134.0 892.9,1134.0 893.5,1140.0 894.1,1146.0 894.7,1146.0 895.3,1152.0 895.9,1164.0 896.5,1170.0 897.1,1182.0 897.7,1194.0 898.3,1206.0 898.9,1218.0 899.5,1236.0 900.1,1242.0 900.7,1266.0 901.3,1278.0 901.9,1290.0 902.5,1296.0 903.1,1302.0 903.7,1308.0 904.3,1314.0 904.9,1320.0 905.5,1326.0 906.1,1332.0 906.7,1308.0 907.3,1332.0 907.9,1326.0 908.5,1332.0 909.1,1314.0 909.7,1338.0 910.3,1320.0 910.9,1338.0 911.5,1320.0 912.1,1344.0 912.7,1314.0 913.3,1314.0 913.9,1314.0 914.5,1314.0 915.1,1314.0 915.7,1320.0 916.3,1320.0 916.9,1320.0 917.5,1344.0 918.1,1338.0 918.7,1338.0 919.3,1332.0 919.9,1338.0 920.5,1344.0 921.1,1320.0 921.7,1320.0 922.3,1320.0 922.9,1320.0 923.5,1326.0 924.1,1326.0 924.7,1326.0 925.3,1350.0 925.9,1350.0 926.5,1332.0 927.1,1344.0 927.7,1338.0 928.3,1338.0 928.9,1338.0 929.5,1332.0 930.1,1356.0 930.7,1350.0 931.3,1350.0 931.9,1338.0 932.5,1350.0 933.1,1344.0 933.7,1350.0 934.3,1338.0 934.9,1356.0 935.5,1344.0 936.1,1350.0 936.7,1338.0 937.3,1338.0 937.9,1350.0 938.5,1332.0 939.1,1332.0 939.7,1332.0 940.3,1332.0 940.9,1332.0 941.5,1332.0 942.1,1332.0 942.7,1350.0 943.3,1350.0 943.9,1362.0 944.5,1344.0 945.1,1362.0 945.7,1362.0 946.3,1362.0 946.9,1362.0 947.5,1362.0 948.1,1362.0 948.7,1344.0 949.3,1356.0 949.9,1356.0 950.5,1356.0 951.1,1356.0 951.7,1344.0 952.3,1332.0 952.9,1332.0 953.5,1332.0 954.1,1338.0 954.7,1338.0 955.3,1362.0 955.9,1350.0 956.5,1350.0 957.1,1356.0 957.7,1338.0 958.3,1338.0 958.9,1332.0 959.5,1338.0 960.1,1338.0 960.7,1338.0 961.3,1338.0 961.9,1350.0 962.5,1344.0 963.1,1344.0 963.7,1344.0 964.3,1362.0 964.9,1356.0 965.5,1362.0 966.1,1344.0 966.7,1356.0 967.3,1356.0 967.9,1350.0 968.5,1356.0 969.1,1338.0 969.7,1338.0 970.3,1338.0 970.9,1338.0 971.5,1338.0 972.1,1338.0 972.7,1338.0 973.3,1338.0 973.9,1338.0 974.5,1362.0 975.1,1362.0 975.7,1350.0 976.3,1362.0 976.9,1356.0 977.5,1362.0 978.1,1356.0 978.7,1344.0 979.3,1356.0 979.9,1344.0 980.5,1356.0 981.1,1344.0 981.7,1368.0 982.3,1368.0 982.9,1368.0 983.5,1368.0 984.1,1368.0 984.7,1368.0 985.3,1368.0 985.9,1344.0 986.5,1350.0 987.1,1356.0 987.7,1356.0 988.3,1344.0 988.9,1350.0 989.5,1344.0 990.1,1344.0 990.7,1356.0 991.3,1350.0 991.9,1368.0 992.5,1344.0 993.1,1368.0 993.7,1368.0 994.3,1368.0 994.9,1368.0 995.5,1368.0 996.1,1362.0 996.7,1344.0 997.3,1344.0 997.9,1338.0 998.5,1338.0 999.1,1338.0 999.7,1356.0 1000.3,1350.0 1000.9,1356.0 1001.5,1362.0 1002.1,1356.0 1002.7,1344.0 1003.3,1350.0 1003.9,1356.0 1004.5,1344.0 1005.1,1344.0 1005.7,1362.0 1006.3,1344.0 1006.9,1350.0 1007.5,1356.0 1008.1,1362.0 1008.7,1350.0 1009.3,1350.0 1009.9,1368.0 1010.5,1362.0 1011.1,1362.0 1011.7,1362.0 1012.3,1362.0 1012.9,1344.0 1013.5,1350.0 1014.1,1362.0 1014.7,1350.0 1015.3,1356.0 1015.9,1362.0 1016.5,1356.0 1017.1,1338.0 1017.7,1356.0 1018.3,1356.0 1018.9,1350.0 1019.5,1356.0 1020.1,1356.0 1020.7,1344.0 1021.3,1350.0 1021.9,1350.0 1022.5,1356.0 1023.1,1350.0 1023.7,1356.0 1024.3,1356.0 1024.9,1350.0 1025.5,1350.0 1026.1,1356.0 1026.7,1356.0 1027.3,1362.0 1027.9,1356.0 1028.5,1356.0 1029.1,1368.0 1029.7,1368.0 1030.3,1356.0 1030.9,1356.0 1031.5,1362.0 1032.1,1374.0 1032.7,1374.0 1033.3,1374.0 1033.9,1350.0 1034.5,1350.0 1035.1,1356.0 1035.7,1350.0 1036.3,1350.0 1036.9,1344.0 1037.5,1344.0 1038.1,1362.0 1038.7,1362.0 1039.3,1362.0 1039.9,1356.0 1040.5,1356.0 1041.1,1356.0 1041.7,1356.0 1042.3,1350.0 1042.9,1362.0 1043.5,1350.0 1044.1,1350.0 1044.7,1356.0 1045.3,1356.0 1045.9,1356.0 1046.5,1356.0 1047.1,1350.0 1047.7,1350.0 1048.3,1344.0 1048.9,1362.0 1049.5,1362.0 1050.1,1362.0 1050.7,1362.0 1051.3,1362.0 1051.9,1356.0 1052.5,1344.0 1053.1,1362.0 1053.7,1356.0 1054.3,1356.0 1054.9,1356.0 1055.5,1338.0 1056.1,1338.0 1056.7,1332.0 1057.3,1332.0 1057.9,1332.0 1058.5,1326.0 1059.1,1332.0 1059.7,1326.0 1060.3,1314.0 1060.9,1320.0 1061.5,1314.0 1062.1,1308.0 1062.7,1308.0 1063.3,1302.0 1063.9,1296.0 1064.5,1296.0 1065.1,1296.0 1065.7,1296.0 1066.3,1296.0 1066.9,1296.0 1067.5,1302.0 1068.1,1302.0 1068.7,1302.0 1069.3,1308.0 1069.9,1308.0 1070.5,1308.0 1071.1,1308.0 1071.7,1308.0 1072.3,1302.0 1072.9,1308.0 1073.5,1302.0 1074.1,1302.0 1074.7,1302.0 1075.3,1302.0 1075.9,1302.0 1076.5,1302.0 1077.1,1308.0 1077.7,1308.0 1078.3,1314.0 1078.9,1314.0 1079.5,1320.0 1080.1,1326.0 1080.7,1326.0 1081.3,1338.0 1081.9,1332.0 1082.5,1338.0 1083.1,1332.0 1083.7,1332.0 1084.3,1344.0 1084.9,1344.0 1085.5,1344.0 1086.1,1344.0 1086.7,1338.0 1087.3,1344.0 1087.9,1350.0 1088.5,1338.0 1089.1,1344.0 1089.7,1356.0 1090.3,1344.0 1090.9,1344.0 1091.5,1350.0 1092.1,1356.0 1092.7,1368.0 1093.3,1368.0 1093.9,1368.0 1094.5,1350.0 1095.1,1362.0 1095.7,1362.0 1096.3,1362.0 1096.9,1362.0 1097.5,1350.0 1098.1,1350.0 1098.7,1350.0 1099.3,1356.0 1099.9,1356.0 1100.5,1350.0 1101.1,1350.0 1101.7,1362.0 1102.3,1356.0 1102.9,1368.0 1103.5,1368.0 1104.1,1368.0 1104.7,1368.0 1105.3,1368.0 1105.9,1362.0 1106.5,1350.0 1107.1,1350.0 1107.7,1356.0 1108.3,1362.0 1108.9,1350.0 1109.5,1356.0 1110.1,1368.0 1110.7,1368.0 1111.3,1368.0 1111.9,1368.0 1112.5,1356.0 1113.1,1356.0 1113.7,1362.0 1114.3,1350.0 1114.9,1344.0 1115.5,1344.0 1116.1,1344.0 1116.7,1344.0 1117.3,1344.0 1117.9,1344.0 1118.5,1344.0 1119.1,1344.0 1119.7,1344.0 1120.3,1350.0 1120.9,1356.0 1121.5,1368.0 1122.1,1368.0 1122.7,1368.0 1123.3,1350.0 1123.9,1350.0 1124.5,1350.0 1125.1,1362.0 1125.7,1350.0 1126.3,1362.0 1126.9,1350.0 1127.5,1350.0 1128.1,1356.0 1128.7,1350.0 1129.3,1350.0 1129.9,1368.0 1130.5,1362.0 1131.1,1344.0 1131.7,1344.0 1132.3,1344.0 1132.9,1344.0 1133.5,1344.0 1134.1,1344.0 1134.7,1362.0 1135.3,1356.0 1135.9,1356.0 1136.5,1350.0 1137.1,1350.0 1137.7,1356.0 1138.3,1356.0 1138.9,1356.0 1139.5,1362.0 1140.1,1356.0 1140.7,1368.0 1141.3,1362.0 1141.9,1368.0 1142.5,1356.0 1143.1,1362.0 1143.7,1368.0 1144.3,1356.0 1144.9,1362.0 1145.5,1362.0 1146.1,1350.0 1146.7,1356.0 1147.3,1356.0 1147.9,1350.0 1148.5,1356.0 1149.1,1356.0 1149.7,1362.0 1150.3,1368.0 1150.9,1350.0 1151.5,1362.0 1152.1,1362.0 1152.7,1356.0 1153.3,1362.0 1153.9,1356.0 1154.5,1350.0 1155.1,1350.0 1155.7,1362.0 1156.3,1368.0 1156.9,1362.0 1157.5,1368.0 1158.1,1350.0 1158.7,1350.0 1159.3,1362.0 1159.9,1356.0 1160.5,1362.0 1161.1,1362.0 1161.7,1356.0 1162.3,1362.0 1162.9,1362.0 1163.5,1368.0 1164.1,1368.0 1164.7,1362.0 1165.3,1356.0 1165.9,1362.0 1166.5,1368.0 1167.1,1368.0 1167.7,1368.0 1168.3,1356.0 1168.9,1362.0 1169.5,1362.0 1170.1,1368.0 1170.7,1368.0 1171.3,1368.0 1171.9,1368.0 1172.5,1368.0 1173.1,1368.0 1173.7,1350.0 1174.3,1362.0 1174.9,1350.0 1175.5,1356.0 1176.1,1362.0 1176.7,1356.0 1177.3,1362.0 1177.9,1362.0 1178.5,1362.0 1179.1,1350.0 1179.7,1362.0 1180.3,1350.0 1180.9,1350.0 1181.5,1368.0 1182.1,1368.0 1182.7,1368.0 1183.3,1368.0 1183.9,1368.0 1184.5,1368.0 1185.1,1368.0 1185.7,1368.0 1186.3,1368.0 1186.9,1368.0 1187.5,1368.0 1188.1,1368.0 1188.7,1356.0 1189.3,1356.0 1189.9,1356.0 1190.5,1362.0 1191.1,1362.0 1191.7,1356.0 1192.3,1362.0 1192.9,1350.0 1193.5,1350.0 1194.1,1362.0 1194.7,1350.0 1195.3,1368.0 1195.9,1368.0 1196.5,1350.0 1197.1,1356.0 1197.7,1362.0 1198.3,1344.0 1198.9,1344.0 1199.5,1344.0 1200.1,1344.0 1200.7,1344.0 1201.3,1344.0 1201.9,1344.0 1202.5,1344.0 1203.1,1350.0 1203.7,1368.0 1204.3,1362.0 1204.9,1362.0 1205.5,1362.0 1206.1,1356.0 1206.7,1350.0 1207.3,1362.0 1207.9,1356.0 1208.5,1368.0 1209.1,1356.0 1209.7,1362.0 1210.3,1362.0 1210.9,1362.0 1211.5,1362.0 1212.1,1356.0 1212.7,1368.0 1213.3,1356.0 1213.9,1356.0 1214.5,1368.0 1215.1,1368.0 1215.7,1356.0 1216.3,1350.0 1216.9,1362.0 1217.5,1368.0 1218.1,1368.0 1218.7,1356.0 1219.3,1362.0 1219.9,1362.0 1220.5,1368.0 1221.1,1368.0 1221.7,1362.0 1222.3,1356.0 1222.9,1356.0 1223.5,1344.0 1224.1,1344.0 1224.7,1344.0 1225.3,1344.0 1225.9,1344.0 1226.5,1344.0 1227.1,1350.0 1227.7,1350.0 1228.3,1350.0 1228.9,1350.0 1229.5,1350.0 1230.1,1368.0 1230.7,1362.0 1231.3,1344.0 1231.9,1344.0 1232.5,1344.0 1233.1,1362.0 1233.7,1356.0 1234.3,1350.0 1234.9,1356.0 1235.5,1356.0 1236.1,1356.0 1236.7,1368.0 1237.3,1362.0 1237.9,1362.0 1238.5,1362.0 1239.1,1362.0 1239.7,1368.0 1240.3,1356.0 1240.9,1356.0 1241.5,1350.0 1242.1,1374.0 1242.7,1374.0 1243.3,1374.0 1243.9,1374.0 1244.5,1374.0 1245.1,1374.0 1245.7,1374.0 1246.3,1374.0 1246.9,1362.0 1247.5,1374.0 1248.1,1374.0 1248.7,1374.0 1249.3,1374.0 1249.9,1350.0 1250.5,1350.0 1251.1,1344.0 1251.7,1344.0 1252.3,1344.0 1252.9,1344.0 1253.5,1344.0 1254.1,1344.0 1254.7,1344.0 1255.3,1344.0 1255.9,1362.0 1256.5,1350.0 1257.1,1350.0 1257.7,1350.0 1258.3,1362.0 1258.9,1368.0 1259.5,1362.0 1260.1,1350.0 1260.7,1350.0 1261.3,1356.0 1261.9,1356.0 1262.5,1356.0 1263.1,1344.0 1263.7,1350.0 1264.3,1350.0 1264.9,1356.0 1265.5,1362.0 1266.1,1362.0 1266.7,1374.0 1267.3,1374.0 1267.9,1374.0 1268.5,1374.0 1269.1,1350.0 1269.7,1350.0 1270.3,1350.0 1270.9,1356.0 1271.5,1362.0 1272.1,1350.0 1272.7,1350.0 1273.3,1356.0 1273.9,1356.0 1274.5,1368.0 1275.1,1344.0 1275.7,1350.0 1276.3,1356.0 1276.9,1344.0 1277.5,1344.0 1278.1,1344.0 1278.7,1344.0 1279.3,1344.0 1279.9,1344.0 1280.5,1356.0 1281.1,1338.0 1281.7,1344.0 1282.3,1344.0 1282.9,1338.0 1283.5,1338.0 1284.1,1338.0 1284.7,1338.0 1285.3,1338.0 1285.9,1362.0 1286.5,1356.0 1287.1,1350.0 1287.7,1356.0 1288.3,1356.0 1288.9,1362.0 1289.5,1362.0 1290.1,1356.0 1290.7,1362.0 1291.3,1344.0 1291.9,1356.0 1292.5,1362.0 1293.1,1356.0 1293.7,1356.0 1294.3,1362.0 1294.9,1350.0 1295.5,1362.0 1296.1,1362.0 1296.7,1362.0 1297.3,1356.0 1297.9,1356.0 1298.5,1356.0 1299.1,1350.0 1299.7,1350.0 1300.3,1338.0 1300.9,1344.0 1301.5,1338.0 1302.1,1344.0 1302.7,1338.0 1303.3,1338.0 1303.9,1338.0 1304.5,1332.0 1305.1,1332.0 1305.7,1332.0 1306.3,1326.0 1306.9,1326.0 1307.5,1326.0 1308.1,1326.0 1308.7,1326.0 1309.3,1332.0 1309.9,1332.0 1310.5,1332.0 1311.1,1344.0 1311.7,1344.0 1312.3,1350.0 1312.9,1350.0 1313.5,1356.0 1314.1,1344.0 1314.7,1350.0 1315.3,1344.0 1315.9,1350.0 1316.5,1338.0 1317.1,1338.0 1317.7,1338.0 1318.3,1338.0 1318.9,1338.0 1319.5,1338.0 1320.1,1338.0 1320.7,1350.0 1321.3,1362.0 1321.9,1356.0 1322.5,1350.0 1323.1,1362.0 1323.7,1356.0 1324.3,1356.0 1324.9,1362.0 1325.5,1344.0 1326.1,1350.0 1326.7,1356.0 1327.3,1344.0 1327.9,1362.0 1328.5,1368.0 1329.1,1350.0 1329.7,1362.0 1330.3,1356.0 1330.9,1356.0 1331.5,1356.0 1332.1,1368.0 1332.7,1356.0 1333.3,1368.0 1333.9,1356.0 1334.5,1350.0 1335.1,1368.0 1335.7,1350.0 1336.3,1350.0 1336.9,1362.0 1337.5,1368.0 1338.1,1362.0 1338.7,1344.0 1339.3,1344.0 1339.9,1344.0 1340.5,1344.0 1341.1,1344.0 1341.7,1368.0 1342.3,1356.0 1342.9,1356.0 1343.5,1350.0 1344.1,1350.0 1344.7,1362.0 1345.3,1362.0 1345.9,1350.0 1346.5,1356.0 1347.1,1362.0 1347.7,1362.0 1348.3,1344.0 1348.9,1344.0 1349.5,1344.0 1350.1,1350.0 1350.7,1356.0 1351.3,1356.0 1351.9,1356.0 1352.5,1350.0 1353.1,1350.0 1353.7,1350.0 1354.3,1362.0 1354.9,1344.0 1355.5,1338.0 1356.1,1338.0 1356.7,1344.0 1357.3,1338.0 1357.9,1338.0 1358.5,1338.0 1359.1,1338.0 1359.7,1350.0 1360.3,1362.0 1360.9,1356.0 1361.5,1356.0 1362.1,1350.0 1362.7,1356.0 1363.3,1356.0 1363.9,1362.0 1364.5,1350.0 1365.1,1344.0 1365.7,1344.0 1366.3,1344.0 1366.9,1344.0 1367.5,1344.0 1368.1,1338.0 1368.7,1356.0 1369.3,1344.0 1369.9,1338.0 1370.5,1338.0 1371.1,1344.0 1371.7,1356.0 1372.3,1350.0 1372.9,1350.0 1373.5,1338.0 1374.1,1356.0 1374.7,1344.0 1375.3,1344.0 1375.9,1338.0 1376.5,1332.0 1377.1,1332.0 1377.7,1350.0 1378.3,1344.0 1378.9,1344.0 1379.5,1338.0 1380.1,1332.0 1380.7,1332.0 1381.3,1326.0 1381.9,1320.0 1382.5,1314.0 1383.1,1308.0 1383.7,1302.0 1384.3,1290.0 1384.9,1290.0 1385.5,1284.0 1386.1,1284.0 1386.7,1272.0 1387.3,1272.0 1387.9,1272.0 1388.5,1272.0 1389.1,1272.0 1389.7,1272.0 1390.3,1272.0 1390.9,1278.0 1391.5,1278.0 1392.1,1290.0 1392.7,1290.0 1393.3,1296.0 1393.9,1302.0 1394.5,1302.0 1395.1,1314.0 1395.7,1314.0 1396.3,1314.0 1396.9,1320.0 1397.5,1314.0 1398.1,1320.0 1398.7,1320.0 1399.3,1320.0 1399.9,1326.0 1400.5,1344.0 1401.1,1332.0 1401.7,1332.0 1402.3,1332.0 1402.9,1338.0 1403.5,1350.0 1404.1,1350.0 1404.7,1356.0 1405.3,1344.0 1405.9,1344.0 1406.5,1362.0 1407.1,1362.0 1407.7,1362.0 1408.3,1362.0 1408.9,1362.0 1409.5,1362.0 1410.1,1350.0 1410.7,1356.0 1411.3,1344.0 1411.9,1356.0 1412.5,1350.0 1413.1,1338.0 1413.7,1338.0 1414.3,1344.0 1414.9,1356.0 1415.5,1362.0 1416.1,1356.0 1416.7,1356.0 1417.3,1338.0 1417.9,1344.0 1418.5,1362.0 1419.1,1350.0 1419.7,1356.0 1420.3,1356.0 1420.9,1356.0 1421.5,1344.0 1422.1,1356.0 1422.7,1350.0 1423.3,1356.0 1423.9,1344.0 1424.5,1350.0 1425.1,1350.0 1425.7,1362.0 1426.3,1362.0 1426.9,1362.0 1427.5,1356.0 1428.1,1356.0 1428.7,1356.0 1429.3,1350.0 1429.9,1344.0 1430.5,1368.0 1431.1,1368.0 1431.7,1368.0 1432.3,1368.0 1432.9,1368.0 1433.5,1344.0 1434.1,1356.0 1434.7,1356.0 1435.3,1344.0 1435.9,1350.0 1436.5,1368.0 1437.1,1362.0 1437.7,1350.0 1438.3,1356.0 1438.9,1362.0 1439.5,1362.0 1440.1,1350.0 1440.7,1362.0 1441.3,1368.0 1441.9,1368.0 1442.5,1368.0 1443.1,1368.0 1443.7,1368.0 1444.3,1368.0 1444.9,1368.0 1445.5,1368.0 1446.1,1368.0 1446.7,1362.0 1447.3,1374.0 1447.9,1374.0 1448.5,1362.0 1449.1,1344.0 1449.7,1368.0 1450.3,1368.0 1450.9,1368.0 1451.5,1368.0 1452.1,1368.0 1452.7,1356.0 1453.3,1338.0 1453.9,1338.0 1454.5,1338.0 1455.1,1338.0 1455.7,1338.0 1456.3,1338.0 1456.9,1338.0 1457.5,1338.0 1458.1,1350.0 1458.7,1362.0 1459.3,1368.0 1459.9,1356.0 1460.5,1362.0 1461.1,1350.0 1461.7,1350.0 1462.3,1356.0 1462.9,1344.0 1463.5,1374.0 1464.1,1374.0 1464.7,1374.0 1465.3,1374.0 1465.9,1374.0 1466.5,1356.0 1467.1,1344.0 1467.7,1344.0 1468.3,1368.0 1468.9,1350.0 1469.5,1350.0 1470.1,1362.0 1470.7,1350.0 1471.3,1356.0 1471.9,1374.0 1472.5,1374.0 1473.1,1374.0 1473.7,1368.0 1474.3,1374.0 1474.9,1374.0 1475.5,1350.0 1476.1,1350.0 1476.7,1350.0 1477.3,1350.0 1477.9,1350.0 1478.5,1350.0 1479.1,1356.0 1479.7,1350.0 1480.3,1332.0 1480.9,1332.0 1481.5,1350.0 1482.1,1362.0 1482.7,1350.0 1483.3,1350.0 1483.9,1338.0 1484.5,1350.0 1485.1,1338.0 1485.7,1344.0 1486.3,1344.0 1486.9,1350.0 1487.5,1344.0 1488.1,1344.0 1488.7,1338.0 1489.3,1350.0 1489.9,1344.0 1490.5,1356.0 1491.1,1356.0 1491.7,1350.0 1492.3,1356.0 1492.9,1344.0 1493.5,1338.0 1494.1,1356.0 1494.7,1356.0 1495.3,1338.0 1495.9,1344.0 1496.5,1332.0 1497.1,1350.0 1497.7,1350.0 1498.3,1332.0 1498.9,1350.0 1499.5,1344.0 1500.1,1332.0 1500.7,1332.0 1501.3,1332.0 1501.9,1332.0 1502.5,1332.0 1503.1,1320.0 1503.7,1338.0 1504.3,1320.0 1504.9,1320.0 1505.5,1308.0 1506.1,1302.0 1506.7,1302.0 1507.3,1296.0 1507.9,1302.0 1508.5,1296.0 1509.1,1296.0 1509.7,1284.0 1510.3,1278.0 1510.9,1278.0 1511.5,1266.0 1512.1,1266.0 1512.7,1254.0 1513.3,1248.0 1513.9,1248.0 1514.5,1236.0 1515.1,1236.0 1515.7,1236.0 1516.3,1230.0 1516.9,1230.0 1517.5,1230.0 1518.1,1236.0 1518.7,1236.0 1519.3,1242.0 1519.9,1248.0 1520.5,1254.0 1521.1,1260.0 1521.7,1260.0 1522.3,1266.0 1522.9,1266.0 1523.5,1272.0 1524.1,1278.0 1524.7,1284.0 1525.3,1290.0 1525.9,1308.0 1526.5,1314.0 1527.1,1314.0 1527.7,1314.0 1528.3,1320.0 1528.9,1326.0 1529.5,1326.0 1530.1,1314.0 1530.7,1320.0 1531.3,1338.0 1531.9,1332.0 1532.5,1338.0 1533.1,1326.0 1533.7,1326.0 1534.3,1326.0 1534.9,1326.0 1535.5,1326.0 1536.1,1350.0 1536.7,1344.0 1537.3,1356.0 1537.9,1362.0 1538.5,1350.0 1539.1,1356.0 1539.7,1338.0 1540.3,1338.0 1540.9,1356.0 1541.5,1344.0 1542.1,1344.0 1542.7,1356.0 1543.3,1338.0 1543.9,1350.0 1544.5,1356.0 1545.1,1356.0 1545.7,1338.0 1546.3,1344.0 1546.9,1362.0 1547.5,1362.0 1548.1,1362.0 1548.7,1356.0 1549.3,1350.0 1549.9,1374.0 1550.5,1374.0 1551.1,1374.0 1551.7,1374.0 1552.3,1374.0 1552.9,1344.0 1553.5,1362.0 1554.1,1350.0 1554.7,1344.0 1555.3,1344.0 1555.9,1350.0 1556.5,1368.0 1557.1,1344.0 1557.7,1368.0 1558.3,1356.0 1558.9,1362.0 1559.5,1368.0 1560.1,1368.0 1560.7,1350.0 1561.3,1362.0 1561.9,1350.0 1562.5,1350.0 1563.1,1350.0 1563.7,1368.0 1564.3,1368.0 1564.9,1362.0 1565.5,1350.0 1566.1,1374.0 1566.7,1374.0 1567.3,1374.0 1567.9,1374.0 1568.5,1374.0 1569.1,1374.0 1569.7,1374.0 1570.3,1374.0 1570.9,1356.0 1571.5,1344.0 1572.1,1356.0 1572.7,1362.0 1573.3,1362.0 1573.9,1368.0 1574.5,1362.0 1575.1,1344.0 1575.7,1344.0 1576.3,1344.0 1576.9,1350.0 1577.5,1350.0 1578.1,1356.0 1578.7,1356.0 1579.3,1350.0 1579.9,1362.0 1580.5,1350.0 1581.1,1344.0 1581.7,1356.0 1582.3,1338.0 1582.9,1350.0 1583.5,1374.0 1584.1,1374.0 1584.7,1374.0 1585.3,1362.0 1585.9,1350.0 1586.5,1368.0 1587.1,1368.0 1587.7,1368.0 1588.3,1356.0 1588.9,1350.0 1589.5,1362.0 1590.1,1344.0 1590.7,1344.0 1591.3,1338.0 1591.9,1338.0 1592.5,1338.0 1593.1,1338.0 1593.7,1338.0 1594.3,1338.0 1594.9,1344.0 1595.5,1344.0 1596.1,1338.0 1596.7,1338.0 1597.3,1338.0 1597.9,1338.0 1598.5,1338.0 1599.1,1338.0 1599.7,1338.0 1600.3,1344.0 1600.9,1344.0 1601.5,1344.0 1602.1,1344.0 1602.7,1344.0 1603.3,1356.0 1603.9,1350.0 1604.5,1350.0 1605.1,1344.0 1605.7,1362.0 1606.3,1350.0 1606.9,1362.0 1607.5,1362.0 1608.1,1350.0 1608.7,1368.0 1609.3,1368.0 1609.9,1350.0 1610.5,1356.0 1611.1,1356.0 1611.7,1356.0 1612.3,1368.0 1612.9,1356.0 1613.5,1362.0 1614.1,1368.0 1614.7,1368.0 1615.3,1362.0 1615.9,1368.0 1616.5,1356.0 1617.1,1362.0 1617.7,1350.0 1618.3,1344.0 1618.9,1344.0 1619.5,1344.0 1620.1,1344.0 1620.7,1344.0 1621.3,1344.0 1621.9,1368.0 1622.5,1368.0 1623.1,1362.0 1623.7,1374.0 1624.3,1374.0 1624.9,1374.0 1625.5,1374.0 1626.1,1374.0 1626.7,1374.0 1627.3,1374.0 1627.9,1374.0 1628.5,1356.0 1629.1,1350.0 1629.7,1362.0 1630.3,1356.0 1630.9,1374.0 1631.5,1362.0 1632.1,1362.0 1632.7,1368.0 1633.3,1362.0 1633.9,1362.0 1634.5,1356.0 1635.1,1368.0 1635.7,1362.0 1636.3,1356.0 1636.9,1368.0 1637.5,1356.0 1638.1,1356.0 1638.7,1368.0 1639.3,1362.0 1639.9,1362.0 1640.5,1362.0 1641.1,1362.0 1641.7,1368.0 1642.3,1350.0 1642.9,1344.0 1643.5,1344.0 1644.1,1362.0 1644.7,1368.0 1645.3,1368.0 1645.9,1350.0 1646.5,1368.0 1647.1,1368.0 1647.7,1368.0 1648.3,1356.0 1648.9,1368.0 1649.5,1368.0 1650.1,1362.0 1650.7,1368.0 1651.3,1356.0 1651.9,1362.0 1652.5,1362.0 1653.1,1368.0 1653.7,1362.0 1654.3,1350.0 1654.9,1350.0 1655.5,1350.0 1656.1,1350.0 1656.7,1350.0 1657.3,1350.0 1657.9,1350.0 1658.5,1350.0 1659.1,1362.0 1659.7,1368.0 1660.3,1368.0 1660.9,1350.0 1661.5,1362.0 1662.1,1356.0 1662.7,1362.0 1663.3,1356.0 1663.9,1356.0 1664.5,1362.0 1665.1,1356.0 1665.7,1362.0 1666.3,1368.0 1666.9,1362.0 1667.5,1356.0 1668.1,1356.0 1668.7,1362.0 1669.3,1350.0 1669.9,1368.0 1670.5,1362.0 1671.1,1350.0 1671.7,1374.0 1672.3,1374.0 1672.9,1374.0 1673.5,1356.0 1674.1,1356.0 1674.7,1356.0 1675.3,1368.0 1675.9,1362.0 1676.5,1350.0 1677.1,1356.0 1677.7,1368.0 1678.3,1368.0 1678.9,1368.0 1679.5,1362.0 1680.1,1356.0 1680.7,1356.0 1681.3,1356.0 1681.9,1356.0 1682.5,1362.0 1683.1,1356.0 1683.7,1362.0 1684.3,1350.0 1684.9,1362.0 1685.5,1356.0 1686.1,1368.0 1686.7,1368.0 1687.3,1362.0 1687.9,1350.0 1688.5,1350.0 1689.1,1368.0 1689.7,1356.0 1690.3,1362.0 1690.9,1368.0 1691.5,1344.0 1692.1,1344.0 1692.7,1362.0 1693.3,1356.0 1693.9,1362.0 1694.5,1362.0 1695.1,1356.0 1695.7,1368.0 1696.3,1368.0 1696.9,1356.0 1697.5,1374.0 1698.1,1374.0 1698.7,1374.0 1699.3,1374.0 1699.9,1374.0 1700.5,1374.0 1701.1,1374.0 1701.7,1374.0 1702.3,1350.0 1702.9,1350.0 1703.5,1362.0 1704.1,1356.0 1704.7,1362.0 1705.3,1350.0 1705.9,1356.0 1706.5,1362.0 1707.1,1362.0 1707.7,1356.0 1708.3,1362.0 1708.9,1344.0 1709.5,1344.0 1710.1,1344.0 1710.7,1344.0 1711.3,1362.0 1711.9,1350.0 1712.5,1362.0 1713.1,1368.0 1713.7,1356.0 1714.3,1368.0 1714.9,1362.0 1715.5,1356.0 1716.1,1350.0 1716.7,1362.0 1717.3,1356.0 1717.9,1368.0 1718.5,1368.0 1719.1,1362.0 1719.7,1362.0 1720.3,1368.0 1720.9,1368.0 1721.5,1362.0 1722.1,1356.0 1722.7,1374.0 1723.3,1374.0 1723.9,1374.0 1724.5,1350.0 1725.1,1362.0 1725.7,1362.0 1726.3,1356.0 1726.9,1368.0 1727.5,1368.0 1728.1,1356.0 1728.7,1350.0 1729.3,1350.0 1729.9,1356.0 1730.5,1356.0 1731.1,1350.0 1731.7,1356.0 1732.3,1356.0 1732.9,1362.0 1733.5,1368.0 1734.1,1362.0 1734.7,1368.0 1735.3,1356.0 1735.9,1374.0 1736.5,1356.0 1737.1,1356.0 1737.7,1350.0 1738.3,1362.0 1738.9,1362.0 1739.5,1356.0 1740.1,1350.0 1740.7,1350.0 1741.3,1362.0 1741.9,1368.0 1742.5,1350.0 1743.1,1368.0 1743.7,1374.0 1744.3,1356.0 1744.9,1356.0 1745.5,1362.0 1746.1,1356.0 1746.7,1368.0 1747.3,1374.0 1747.9,1374.0 1748.5,1374.0 1749.1,1362.0 1749.7,1350.0 1750.3,1356.0 1750.9,1368.0 1751.5,1356.0 1752.1,1356.0 1752.7,1350.0 1753.3,1350.0 1753.9,1350.0 1754.5,1356.0 1755.1,1368.0 1755.7,1362.0 1756.3,1350.0 1756.9,1362.0 1757.5,1356.0 1758.1,1368.0 1758.7,1368.0 1759.3,1362.0 1759.9,1362.0 1760.5,1356.0 1761.1,1374.0 1761.7,1362.0 1762.3,1350.0 1762.9,1374.0 1763.5,1374.0 1764.1,1374.0 1764.7,1362.0 1765.3,1350.0 1765.9,1362.0 1766.5,1350.0 1767.1,1356.0 1767.7,1356.0 1768.3,1344.0 1768.9,1356.0 1769.5,1344.0 1770.1,1368.0 1770.7,1368.0 1771.3,1362.0 1771.9,1350.0 1772.5,1344.0 1773.1,1350.0 1773.7,1356.0 1774.3,1368.0 1774.9,1362.0 1775.5,1362.0 1776.1,1362.0 1776.7,1356.0 1777.3,1356.0 1777.9,1356.0 1778.5,1356.0 1779.1,1350.0 1779.7,1344.0 1780.3,1338.0 1780.9,1338.0 1781.5,1332.0 1782.1,1338.0 1782.7,1332.0 1783.3,1326.0 1783.9,1326.0 1784.5,1326.0 1785.1,1326.0 1785.7,1326.0 1786.3,1326.0 1786.9,1326.0 1787.5,1332.0 1788.1,1332.0 1788.7,1332.0 1789.3,1338.0 1789.9,1338.0 1790.5,1338.0 1791.1,1338.0 1791.7,1344.0 1792.3,1344.0 1792.9,1344.0 1793.5,1350.0 1794.1,1350.0 1794.7,1350.0 1795.3,1356.0 1795.9,1350.0 1796.5,1344.0 1797.1,1350.0 1797.7,1344.0 1798.3,1344.0 1798.9,1356.0 1799.5,1362.0 1800.1,1362.0 1800.7,1356.0 1801.3,1350.0 1801.9,1344.0 1802.5,1362.0 1803.1,1344.0 1803.7,1362.0 1804.3,1362.0 1804.9,1350.0 1805.5,1362.0 1806.1,1356.0 1806.7,1374.0 1807.3,1374.0 1807.9,1374.0 1808.5,1374.0 1809.1,1374.0 1809.7,1374.0 1810.3,1374.0 1810.9,1374.0 1811.5,1350.0 1812.1,1368.0 1812.7,1356.0 1813.3,1368.0 1813.9,1368.0 1814.5,1362.0 1815.1,1356.0 1815.7,1350.0 1816.3,1356.0 1816.9,1356.0 1817.5,1350.0 1818.1,1350.0 1818.7,1368.0 1819.3,1368.0 1819.9,1356.0 1820.5,1368.0 1821.1,1362.0 1821.7,1356.0 1822.3,1362.0 1822.9,1362.0 1823.5,1368.0 1824.1,1368.0 1824.7,1356.0 1825.3,1350.0 1825.9,1362.0 1826.5,1344.0 1827.1,1344.0 1827.7,1344.0 1828.3,1344.0 1828.9,1344.0 1829.5,1344.0 1830.1,1344.0 1830.7,1350.0 1831.3,1356.0 1831.9,1356.0 1832.5,1362.0 1833.1,1362.0 1833.7,1344.0 1834.3,1344.0 1834.9,1344.0 1835.5,1344.0 1836.1,1344.0 1836.7,1344.0 1837.3,1362.0 1837.9,1368.0 1838.5,1368.0 1839.1,1368.0 1839.7,1350.0 1840.3,1350.0 1840.9,1350.0 1841.5,1356.0 1842.1,1350.0 1842.7,1362.0 1843.3,1344.0 1843.9,1344.0 1844.5,1344.0 1845.1,1344.0 1845.7,1344.0 1846.3,1344.0 1846.9,1344.0 1847.5,1344.0 1848.1,1362.0 1848.7,1350.0 1849.3,1350.0 1849.9,1344.0 1850.5,1344.0 1851.1,1344.0 1851.7,1344.0 1852.3,1344.0 1852.9,1344.0 1853.5,1344.0 1854.1,1344.0 1854.7,1356.0 1855.3,1368.0 1855.9,1350.0 1856.5,1350.0 1857.1,1356.0 1857.7,1362.0 1858.3,1356.0 1858.9,1350.0 1859.5,1368.0 1860.1,1350.0 1860.7,1356.0 1861.3,1368.0 1861.9,1368.0 1862.5,1362.0 1863.1,1368.0 1863.7,1356.0 1864.3,1368.0 1864.9,1356.0 1865.5,1380.0 1866.1,1380.0 1866.7,1374.0 1867.3,1380.0 1867.9,1380.0 1868.5,1380.0 1869.1,1380.0 1869.7,1374.0 1870.3,1350.0 1870.9,1368.0 1871.5,1350.0 1872.1,1350.0 1872.7,1362.0 1873.3,1356.0 1873.9,1350.0 1874.5,1350.0 1875.1,1362.0 1875.7,1356.0 1876.3,1362.0 1876.9,1368.0 1877.5,1368.0 1878.1,1362.0 1878.7,1356.0 1879.3,1362.0 1879.9,1368.0 1880.5,1368.0 1881.1,1356.0 1881.7,1368.0 1882.3,1368.0 1882.9,1356.0 1883.5,1362.0 1884.1,1356.0 1884.7,1344.0 1885.3,1344.0 1885.9,1344.0 1886.5,1344.0 1887.1,1350.0 1887.7,1368.0 1888.3,1350.0 1888.9,1356.0 1889.5,1344.0 1890.1,1344.0 1890.7,1344.0 1891.3,1344.0 1891.9,1344.0 1892.5,1350.0 1893.1,1350.0 1893.7,1350.0 1894.3,1344.0 1894.9,1362.0 1895.5,1374.0 1896.1,1374.0 1896.7,1356.0 1897.3,1362.0 1897.9,1368.0 1898.5,1356.0 1899.1,1350.0 1899.7,1380.0 1900.3,1380.0 1900.9,1380.0 1901.5,1380.0 1902.1,1380.0 1902.7,1380.0 1903.3,1380.0 1903.9,1380.0 1904.5,1380.0 1905.1,1368.0 1905.7,1350.0 1906.3,1356.0 1906.9,1362.0 1907.5,1368.0 1908.1,1374.0 1908.7,1374.0 1909.3,1374.0 1909.9,1374.0 1910.5,1374.0 1911.1,1374.0 1911.7,1350.0 1912.3,1368.0 1912.9,1344.0 1913.5,1344.0 1914.1,1344.0 1914.7,1344.0 1915.3,1344.0 1915.9,1344.0 1916.5,1368.0 1917.1,1356.0 1917.7,1362.0 1918.3,1368.0 1918.9,1374.0 1919.5,1374.0 1920.1,1374.0"/>
</g>
<text x="301.17" y="1561" text-anchor="middle" font-size="85">10</text>
<text x="532.50" y="1561" text-anchor="middle" font-size="85">20</text>
<text x="763.83" y="1561" text-anchor="middle" font-size="85">30</text>
<text x="995.17" y="1561" text-anchor="middle" font-size="85">40</text>
<text x="1226.50" y="1561" text-anchor="middle" font-size="85">50</text>
<text x="1457.83" y="1561" text-anchor="middle" font-size="85">60</text>
<text x="1689.17" y="1561" text-anchor="middle" font-size="85">70</text>
<text x="1920.50" y="1561" text-anchor="middle" font-size="85">80</text>
<text x="1052.75" y="1711.8" text-anchor="middle" font-size="108">2-Theta (degree)</text>
<text transform="translate(112,777) rotate(-90)" text-anchor="middle" font-size="107">Intensity (a.u)</text>
<text transform="translate(651,130) rotate(-90)" text-anchor="middle" font-size="60.5">(002)</text>
<text transform="translate(517.1,975.9) rotate(-90)" text-anchor="middle" font-size="60.5">(111)</text>
<text transform="translate(784.1,874.8) rotate(-90)" text-anchor="middle" font-size="60.5">(220)</text>
<text transform="translate(872.1,684.5) rotate(-90)" text-anchor="middle" font-size="60.5">(311)</text>
<text transform="translate(1086.9,949.5) rotate(-90)" text-anchor="middle" font-size="60.5">(400)</text>
<text transform="translate(1321.5,1012.9) rotate(-90)" text-anchor="middle" font-size="60.5">(422)</text>
<text transform="translate(1410,881.5) rotate(-90)" text-anchor="middle" font-size="60.5">(511)</text>
<text transform="translate(1542.8,855.5) rotate(-90)" text-anchor="middle" font-size="60.5">(440)</text>
<text transform="translate(1799.9,1015.3) rotate(-90)" text-anchor="middle" font-size="60.5">(533)</text>
<text x="1649" y="562.4" font-size="65.3">rGO</text>
<text x="1628.5" y="806" font-size="65">MnFe<tspan font-size="36" dy="24">2</tspan><tspan dy="-24">O</tspan><tspan font-size="36" dy="24">4</tspan></text>
<text x="1505" y="1217.4" font-size="65">MnFe<tspan font-size="36" dy="26">2</tspan><tspan dy="-26">O</tspan><tspan font-size="36" dy="26">4</tspan><tspan dy="-26">/rGO</tspan></text>
</svg>
</body></html>
